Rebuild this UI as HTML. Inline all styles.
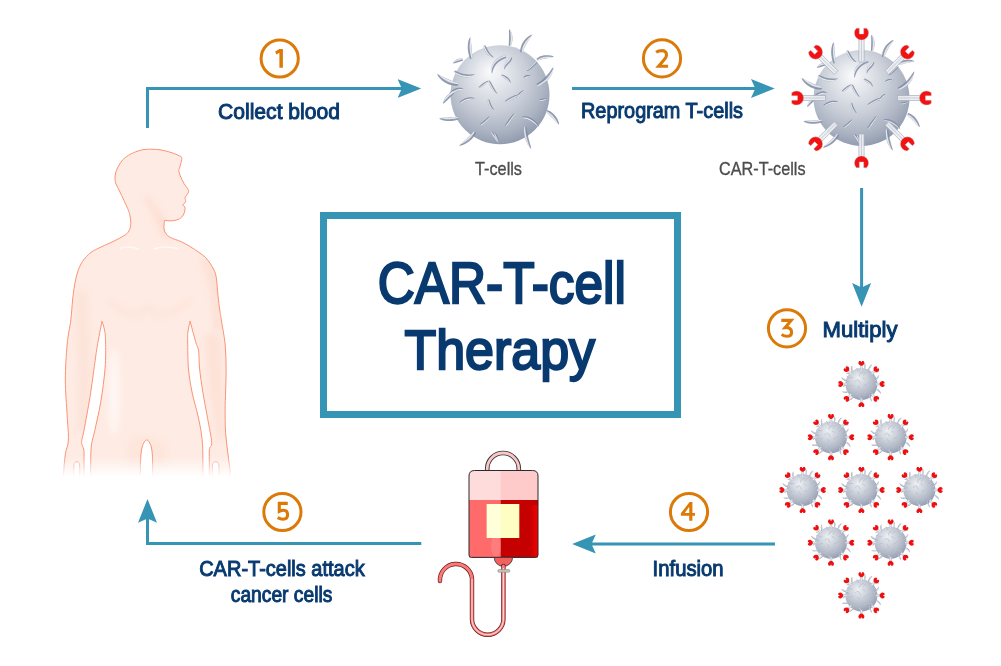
<!DOCTYPE html>
<html><head><meta charset="utf-8">
<style>
html,body{margin:0;padding:0;background:#fff;}
body{width:1001px;height:666px;overflow:hidden;position:relative;}
svg{position:absolute;left:0;top:0;}
text{font-family:"Liberation Sans",sans-serif;}
.lbl{fill:#083a70;stroke:#083a70;stroke-width:1.0;}
.ttl{fill:#083a70;stroke:#083a70;stroke-width:2.3;}
.num{fill:#db7a08;font-weight:bold;}
.gry{fill:#4d4d4d;stroke:#4d4d4d;stroke-width:0.35;}
</style></head>
<body>
<svg width="1001" height="666" viewBox="0 0 1001 666">
<defs>
  <radialGradient id="sph" cx="0.45" cy="0.38" r="0.64" fx="0.4" fy="0.26">
    <stop offset="0" stop-color="#f9fafb"/>
    <stop offset="0.25" stop-color="#e3e6eb"/>
    <stop offset="0.55" stop-color="#c8cdd7"/>
    <stop offset="0.82" stop-color="#aab2c1"/>
    <stop offset="1" stop-color="#8f99ad"/>
  </radialGradient>
  <linearGradient id="bodyfade" x1="0" y1="0" x2="0" y2="1">
    <stop offset="0" stop-color="#fff" stop-opacity="0"/>
    <stop offset="1" stop-color="#fff" stop-opacity="1"/>
  </linearGradient>
  <marker id="ah" viewBox="0 0 24 20" refX="8" refY="10" markerWidth="24" markerHeight="20" markerUnits="userSpaceOnUse" orient="auto">
    <path d="M0,0.5 L23.7,10 L0,19.5 L4.3,10 Z" fill="#3694b4"/>
  </marker>
  <g id="hairs"><path d="M-26.54,-36.18 L-26.70,-38.13 L-26.86,-40.02 L-27.03,-41.86 L-27.18,-43.67 L-27.34,-45.43 L-27.49,-47.17 L-27.64,-48.88 L-27.78,-50.58 L-27.93,-52.26 L-28.09,-53.95 L-28.28,-55.64 L-28.80,-57.40 L-28.80,-57.40 L-29.82,-55.84 L-30.39,-54.16 L-30.81,-52.42 L-31.08,-50.64 L-31.23,-48.83 L-31.26,-46.98 L-31.17,-45.11 L-30.95,-43.22 L-30.61,-41.33 L-30.15,-39.42 L-29.57,-37.52 L-28.86,-35.62Z M-36.15,-35.79 L-37.19,-35.95 L-38.22,-35.99 L-39.23,-35.94 L-40.22,-35.79 L-41.18,-35.54 L-42.10,-35.20 L-42.97,-34.77 L-43.79,-34.25 L-44.54,-33.65 L-45.21,-32.95 L-45.79,-32.16 L-46.10,-31.10 L-46.10,-31.10 L-45.02,-31.13 L-44.15,-31.34 L-43.34,-31.57 L-42.55,-31.79 L-41.77,-32.02 L-41.00,-32.25 L-40.23,-32.48 L-39.45,-32.72 L-38.65,-32.97 L-37.82,-33.24 L-36.95,-33.51 L-36.05,-33.81Z M-40.74,-11.49 L-42.60,-12.07 L-44.40,-12.68 L-46.15,-13.31 L-47.86,-13.97 L-49.55,-14.66 L-51.21,-15.40 L-52.88,-16.17 L-54.56,-17.00 L-56.25,-17.88 L-57.98,-18.82 L-59.78,-19.80 L-61.90,-20.60 L-61.90,-20.60 L-61.01,-18.47 L-59.71,-16.74 L-58.25,-15.18 L-56.67,-13.78 L-54.97,-12.53 L-53.19,-11.45 L-51.31,-10.54 L-49.36,-9.81 L-47.35,-9.25 L-45.29,-8.88 L-43.19,-8.70 L-41.06,-8.71Z M11.76,-48.23 L12.36,-49.71 L12.84,-51.22 L13.18,-52.73 L13.40,-54.25 L13.49,-55.76 L13.45,-57.25 L13.29,-58.73 L13.00,-60.17 L12.58,-61.57 L12.02,-62.92 L11.31,-64.20 L10.20,-65.30 L10.20,-65.30 L9.95,-63.79 L9.96,-62.42 L9.98,-61.08 L10.00,-59.77 L10.00,-58.46 L10.00,-57.15 L9.97,-55.83 L9.93,-54.49 L9.88,-53.12 L9.81,-51.72 L9.73,-50.27 L9.64,-48.77Z M23.48,-42.01 L24.07,-43.57 L24.68,-45.07 L25.32,-46.54 L26.00,-47.98 L26.73,-49.39 L27.51,-50.81 L28.34,-52.22 L29.23,-53.66 L30.19,-55.11 L31.23,-56.60 L32.32,-58.15 L33.30,-60.00 L33.30,-60.00 L31.29,-59.31 L29.60,-58.24 L28.06,-57.04 L26.66,-55.72 L25.40,-54.30 L24.29,-52.79 L23.34,-51.20 L22.55,-49.54 L21.93,-47.81 L21.48,-46.04 L21.21,-44.23 L21.12,-42.39Z M38.58,-33.87 L39.66,-34.19 L40.75,-34.51 L41.88,-34.83 L43.05,-35.14 L44.27,-35.44 L45.55,-35.75 L46.90,-36.05 L48.32,-36.36 L49.83,-36.67 L51.42,-36.99 L53.11,-37.34 L54.90,-38.00 L54.90,-38.00 L53.13,-38.76 L51.38,-39.11 L49.68,-39.31 L48.03,-39.37 L46.44,-39.32 L44.90,-39.15 L43.44,-38.86 L42.04,-38.46 L40.73,-37.95 L39.52,-37.32 L38.41,-36.58 L37.42,-35.73Z M38.45,-8.49 L40.59,-9.15 L42.63,-10.01 L44.55,-11.06 L46.33,-12.29 L47.98,-13.69 L49.47,-15.25 L50.80,-16.97 L51.95,-18.82 L52.92,-20.80 L53.70,-22.89 L54.25,-25.10 L54.30,-27.50 L54.30,-27.50 L52.81,-25.68 L51.61,-23.89 L50.42,-22.22 L49.20,-20.65 L47.96,-19.18 L46.68,-17.80 L45.35,-16.49 L43.96,-15.24 L42.49,-14.05 L40.94,-12.90 L39.30,-11.79 L37.55,-10.71Z M-45.73,-3.29 L-47.04,-2.64 L-48.29,-1.91 L-49.46,-1.10 L-50.57,-0.21 L-51.60,0.74 L-52.56,1.76 L-53.43,2.84 L-54.22,3.97 L-54.92,5.16 L-55.52,6.40 L-55.99,7.70 L-56.10,9.20 L-56.10,9.20 L-54.80,8.49 L-53.79,7.63 L-52.83,6.77 L-51.89,5.90 L-50.96,5.02 L-50.04,4.14 L-49.13,3.25 L-48.21,2.34 L-47.29,1.42 L-46.36,0.47 L-45.42,-0.50 L-44.47,-1.51Z M-41.09,22.72 L-42.77,22.69 L-44.41,22.68 L-46.02,22.69 L-47.59,22.72 L-49.14,22.76 L-50.68,22.81 L-52.19,22.88 L-53.69,22.96 L-55.19,23.07 L-56.69,23.19 L-58.21,23.38 L-59.80,23.90 L-59.80,23.90 L-58.44,24.91 L-56.97,25.49 L-55.44,25.93 L-53.88,26.26 L-52.29,26.48 L-50.68,26.59 L-49.04,26.60 L-47.38,26.50 L-45.72,26.31 L-44.05,26.01 L-42.38,25.60 L-40.71,25.08Z M-25.01,36.87 L-26.08,37.97 L-27.14,39.07 L-28.23,40.17 L-29.35,41.27 L-30.50,42.38 L-31.69,43.50 L-32.93,44.64 L-34.22,45.81 L-35.56,47.01 L-36.97,48.25 L-38.42,49.56 L-39.80,51.20 L-39.80,51.20 L-37.66,50.91 L-35.75,50.22 L-33.96,49.40 L-32.27,48.48 L-30.69,47.46 L-29.21,46.35 L-27.85,45.16 L-26.61,43.89 L-25.49,42.54 L-24.51,41.13 L-23.67,39.66 L-22.99,38.13Z M46.94,17.55 L47.97,18.46 L48.98,19.36 L49.98,20.28 L50.98,21.22 L51.99,22.19 L53.01,23.20 L54.05,24.26 L55.12,25.36 L56.21,26.52 L57.35,27.74 L58.56,29.01 L60.10,30.20 L60.10,30.20 L59.91,28.24 L59.31,26.51 L58.59,24.89 L57.75,23.37 L56.82,21.96 L55.79,20.65 L54.68,19.45 L53.49,18.38 L52.22,17.43 L50.89,16.62 L49.50,15.95 L48.06,15.45Z M25.41,32.25 L25.12,34.17 L24.99,36.11 L25.02,38.06 L25.21,40.01 L25.54,41.94 L26.03,43.86 L26.66,45.76 L27.44,47.62 L28.36,49.44 L29.43,51.21 L30.67,52.91 L32.30,54.40 L32.30,54.40 L31.93,52.25 L31.35,50.31 L30.79,48.42 L30.28,46.58 L29.80,44.77 L29.37,42.99 L28.99,41.22 L28.64,39.46 L28.33,37.70 L28.05,35.94 L27.81,34.16 L27.59,32.35Z M-15.44,-48.70 L-15.22,-47.48 L-14.91,-46.26 L-14.51,-45.03 L-14.00,-43.81 L-13.38,-42.61 L-12.62,-41.45 L-11.73,-40.36 L-10.69,-39.36 L-9.50,-38.47 L-8.17,-37.73 L-6.70,-37.16 L-5.00,-37.00 L-5.00,-37.00 L-6.14,-38.19 L-7.19,-39.16 L-8.11,-40.12 L-8.91,-41.09 L-9.63,-42.06 L-10.28,-43.05 L-10.89,-44.06 L-11.46,-45.08 L-12.03,-46.13 L-12.59,-47.19 L-13.16,-48.25 L-13.76,-49.30Z M6.80,-38.88 L4.86,-38.67 L2.89,-38.18 L0.95,-37.43 L-0.92,-36.41 L-2.68,-35.13 L-4.26,-33.60 L-5.62,-31.84 L-6.70,-29.86 L-7.46,-27.69 L-7.84,-25.37 L-7.78,-22.95 L-7.00,-20.50 L-7.00,-20.50 L-6.36,-22.88 L-5.76,-24.96 L-4.98,-26.79 L-4.04,-28.43 L-2.95,-29.90 L-1.74,-31.22 L-0.42,-32.43 L1.00,-33.51 L2.49,-34.48 L4.04,-35.34 L5.61,-36.09 L7.20,-36.72Z M11.55,-37.17 L10.98,-36.35 L10.34,-35.59 L9.62,-34.83 L8.84,-34.05 L8.02,-33.22 L7.20,-32.33 L6.42,-31.34 L5.73,-30.25 L5.20,-29.04 L4.91,-27.74 L4.93,-26.36 L5.50,-25.00 L5.50,-25.00 L6.08,-26.25 L6.57,-27.23 L7.14,-28.08 L7.78,-28.86 L8.50,-29.62 L9.28,-30.40 L10.09,-31.22 L10.92,-32.11 L11.70,-33.08 L12.40,-34.16 L12.94,-35.34 L13.25,-36.63Z M2.12,-18.70 L2.92,-18.06 L3.74,-17.46 L4.57,-16.88 L5.39,-16.32 L6.20,-15.78 L6.99,-15.24 L7.75,-14.69 L8.49,-14.13 L9.21,-13.55 L9.91,-12.91 L10.62,-12.22 L11.50,-11.50 L11.50,-11.50 L11.53,-12.70 L11.20,-13.77 L10.69,-14.76 L10.06,-15.68 L9.33,-16.50 L8.51,-17.24 L7.64,-17.89 L6.72,-18.47 L5.78,-18.97 L4.82,-19.41 L3.85,-19.78 L2.88,-20.10Z M-19.58,-6.18 L-18.49,-6.73 L-17.46,-7.33 L-16.48,-7.95 L-15.57,-8.59 L-14.71,-9.23 L-13.91,-9.87 L-13.16,-10.51 L-12.45,-11.13 L-11.78,-11.74 L-11.14,-12.33 L-10.54,-12.93 L-10.00,-13.70 L-10.00,-13.70 L-10.97,-13.80 L-11.87,-13.59 L-12.75,-13.25 L-13.63,-12.82 L-14.49,-12.32 L-15.34,-11.75 L-16.18,-11.13 L-17.02,-10.46 L-17.86,-9.75 L-18.70,-9.00 L-19.55,-8.23 L-20.42,-7.42Z M-10.72,-13.36 L-10.39,-12.22 L-10.00,-11.07 L-9.55,-9.90 L-9.04,-8.73 L-8.45,-7.56 L-7.78,-6.40 L-7.02,-5.25 L-6.16,-4.14 L-5.20,-3.07 L-4.14,-2.07 L-2.94,-1.16 L-1.50,-0.50 L-1.50,-0.50 L-2.21,-1.88 L-2.97,-3.08 L-3.69,-4.25 L-4.36,-5.40 L-4.99,-6.53 L-5.60,-7.65 L-6.19,-8.77 L-6.78,-9.87 L-7.37,-10.95 L-7.98,-12.01 L-8.61,-13.05 L-9.28,-14.04Z M25.49,-15.95 L26.05,-16.06 L26.58,-16.17 L27.07,-16.29 L27.54,-16.42 L28.01,-16.56 L28.48,-16.72 L28.96,-16.90 L29.48,-17.10 L30.03,-17.33 L30.63,-17.59 L31.29,-17.91 L32.00,-18.50 L32.00,-18.50 L31.25,-19.07 L30.52,-19.32 L29.81,-19.48 L29.11,-19.55 L28.43,-19.54 L27.77,-19.46 L27.14,-19.30 L26.53,-19.07 L25.96,-18.77 L25.43,-18.40 L24.95,-17.96 L24.51,-17.45Z M-45.25,-22.54 L-43.85,-21.18 L-42.30,-20.00 L-40.61,-19.03 L-38.83,-18.26 L-36.97,-17.71 L-35.05,-17.37 L-33.11,-17.24 L-31.17,-17.33 L-29.26,-17.64 L-27.39,-18.15 L-25.59,-18.90 L-24.00,-20.10 L-24.00,-20.10 L-25.94,-20.15 L-27.75,-20.05 L-29.51,-20.02 L-31.24,-20.08 L-32.94,-20.24 L-34.60,-20.48 L-36.23,-20.82 L-37.82,-21.26 L-39.39,-21.79 L-40.93,-22.43 L-42.45,-23.18 L-43.95,-24.06Z M-48.59,0.60 L-47.39,-0.24 L-46.23,-1.01 L-45.11,-1.70 L-44.01,-2.31 L-42.95,-2.86 L-41.92,-3.35 L-40.90,-3.77 L-39.89,-4.14 L-38.89,-4.46 L-37.86,-4.73 L-36.80,-4.97 L-35.60,-5.40 L-35.60,-5.40 L-36.63,-6.25 L-37.83,-6.66 L-39.10,-6.85 L-40.41,-6.84 L-41.74,-6.65 L-43.06,-6.28 L-44.36,-5.74 L-45.62,-5.03 L-46.82,-4.18 L-47.97,-3.19 L-49.03,-2.06 L-50.01,-0.80Z M-38.26,8.82 L-36.99,8.17 L-35.76,7.60 L-34.57,7.09 L-33.40,6.64 L-32.26,6.23 L-31.12,5.87 L-29.98,5.54 L-28.83,5.24 L-27.67,4.96 L-26.48,4.69 L-25.27,4.41 L-24.00,3.90 L-24.00,3.90 L-25.23,3.25 L-26.52,2.95 L-27.83,2.80 L-29.16,2.78 L-30.50,2.89 L-31.83,3.13 L-33.17,3.50 L-34.48,4.01 L-35.76,4.65 L-37.00,5.42 L-38.20,6.33 L-39.34,7.38Z M-18.47,30.93 L-17.41,30.62 L-16.39,30.20 L-15.42,29.69 L-14.49,29.10 L-13.61,28.43 L-12.79,27.68 L-12.02,26.87 L-11.31,26.00 L-10.66,25.06 L-10.08,24.08 L-9.57,23.03 L-9.30,21.80 L-9.30,21.80 L-10.39,22.39 L-11.28,23.10 L-12.11,23.80 L-12.92,24.49 L-13.71,25.17 L-14.49,25.82 L-15.25,26.46 L-16.01,27.08 L-16.77,27.69 L-17.54,28.29 L-18.32,28.88 L-19.13,29.47Z M-11.19,5.07 L-11.24,6.26 L-11.16,7.43 L-10.97,8.58 L-10.69,9.69 L-10.30,10.75 L-9.81,11.75 L-9.24,12.68 L-8.57,13.52 L-7.83,14.26 L-7.02,14.88 L-6.14,15.35 L-5.10,15.50 L-5.10,15.50 L-5.47,14.56 L-5.92,13.80 L-6.36,13.04 L-6.77,12.26 L-7.18,11.45 L-7.56,10.62 L-7.94,9.76 L-8.30,8.86 L-8.65,7.93 L-8.98,6.97 L-9.30,5.97 L-9.61,4.93Z M-7.84,37.97 L-7.46,38.83 L-7.04,39.69 L-6.59,40.57 L-6.09,41.45 L-5.54,42.35 L-4.95,43.25 L-4.30,44.15 L-3.59,45.04 L-2.82,45.90 L-1.98,46.74 L-1.06,47.52 L0.10,48.10 L0.10,48.10 L-0.25,46.87 L-0.75,45.81 L-1.26,44.79 L-1.77,43.80 L-2.29,42.84 L-2.83,41.90 L-3.38,40.99 L-3.95,40.11 L-4.55,39.26 L-5.18,38.46 L-5.85,37.71 L-6.56,37.03Z M7.08,31.75 L8.10,30.89 L9.07,29.96 L9.99,28.96 L10.85,27.90 L11.65,26.81 L12.41,25.68 L13.10,24.53 L13.73,23.37 L14.30,22.20 L14.81,21.04 L15.23,19.87 L15.40,18.60 L15.40,18.60 L14.35,19.33 L13.49,20.22 L12.68,21.18 L11.88,22.19 L11.09,23.22 L10.32,24.27 L9.56,25.34 L8.81,26.41 L8.07,27.48 L7.35,28.55 L6.63,29.60 L5.92,30.65Z M23.35,23.70 L24.68,23.91 L26.02,24.23 L27.39,24.65 L28.78,25.17 L30.19,25.79 L31.60,26.49 L33.02,27.29 L34.43,28.17 L35.83,29.13 L37.20,30.16 L38.57,31.26 L40.10,32.30 L40.10,32.30 L39.46,30.52 L38.45,28.96 L37.27,27.52 L35.95,26.21 L34.52,25.05 L33.00,24.03 L31.41,23.18 L29.78,22.51 L28.12,22.03 L26.46,21.76 L24.82,21.71 L23.25,21.90Z M6.90,7.79 L8.13,7.29 L9.35,6.74 L10.56,6.15 L11.77,5.53 L12.98,4.88 L14.18,4.21 L15.37,3.53 L16.55,2.83 L17.74,2.12 L18.92,1.40 L20.09,0.66 L21.20,-0.30 L21.20,-0.30 L19.72,-0.31 L18.32,-0.02 L16.95,0.38 L15.60,0.85 L14.28,1.39 L13.00,1.99 L11.75,2.63 L10.54,3.32 L9.37,4.05 L8.23,4.81 L7.14,5.60 L6.10,6.41Z M39.98,6.19 L40.73,6.45 L41.47,6.61 L42.20,6.67 L42.91,6.65 L43.59,6.54 L44.24,6.36 L44.87,6.12 L45.46,5.82 L46.02,5.46 L46.55,5.05 L47.07,4.59 L47.50,3.90 L47.50,3.90 L46.70,3.76 L46.02,3.82 L45.38,3.91 L44.77,4.01 L44.20,4.13 L43.66,4.24 L43.13,4.35 L42.60,4.46 L42.06,4.56 L41.50,4.66 L40.89,4.74 L40.22,4.81Z M-4.66,38.72 L-4.55,39.54 L-4.37,40.35 L-4.14,41.15 L-3.86,41.93 L-3.53,42.69 L-3.15,43.43 L-2.73,44.14 L-2.27,44.82 L-1.76,45.46 L-1.21,46.06 L-0.60,46.61 L0.20,47.00 L0.20,47.00 L0.16,46.12 L-0.06,45.36 L-0.31,44.62 L-0.58,43.89 L-0.87,43.16 L-1.18,42.45 L-1.50,41.74 L-1.83,41.04 L-2.18,40.34 L-2.55,39.65 L-2.93,38.96 L-3.34,38.28Z M18.38,3.67 L19.07,3.09 L19.71,2.48 L20.32,1.85 L20.90,1.21 L21.45,0.57 L21.98,-0.08 L22.49,-0.71 L23.00,-1.35 L23.50,-1.98 L24.01,-2.61 L24.53,-3.26 L25.00,-4.10 L25.00,-4.10 L24.01,-4.08 L23.14,-3.77 L22.34,-3.35 L21.58,-2.84 L20.87,-2.27 L20.22,-1.65 L19.62,-0.98 L19.06,-0.28 L18.54,0.44 L18.07,1.19 L17.63,1.95 L17.22,2.73Z M37.56,-33.04 L36.24,-32.15 L35.01,-31.24 L33.88,-30.32 L32.83,-29.42 L31.88,-28.53 L31.00,-27.68 L30.20,-26.88 L29.46,-26.13 L28.78,-25.44 L28.15,-24.81 L27.55,-24.22 L27.00,-23.50 L27.00,-23.50 L27.95,-23.40 L28.87,-23.66 L29.78,-24.09 L30.69,-24.65 L31.59,-25.31 L32.50,-26.07 L33.42,-26.90 L34.35,-27.81 L35.31,-28.77 L36.31,-29.79 L37.35,-30.85 L38.44,-31.96Z" fill="#7f8ba3" opacity="0.85"/><path d="M-26.36,-36.22 L-26.66,-38.13 L-26.94,-40.00 L-27.18,-41.84 L-27.38,-43.64 L-27.55,-45.42 L-27.68,-47.16 L-27.78,-48.88 L-27.85,-50.58 L-27.88,-52.26 L-27.88,-53.93 L-27.87,-55.58 L-27.97,-57.26 L-27.97,-57.26 L-28.56,-55.67 L-28.92,-54.02 L-29.17,-52.33 L-29.33,-50.61 L-29.40,-48.86 L-29.38,-47.07 L-29.27,-45.27 L-29.07,-43.44 L-28.79,-41.60 L-28.42,-39.74 L-27.96,-37.86 L-27.40,-35.97Z M-36.16,-35.95 L-37.19,-35.98 L-38.21,-35.93 L-39.21,-35.81 L-40.18,-35.63 L-41.12,-35.37 L-42.04,-35.05 L-42.92,-34.66 L-43.76,-34.20 L-44.56,-33.68 L-45.31,-33.10 L-46.00,-32.45 L-46.55,-31.64 L-46.55,-31.64 L-45.65,-31.98 L-44.83,-32.37 L-44.02,-32.75 L-43.20,-33.10 L-42.38,-33.42 L-41.55,-33.72 L-40.70,-34.00 L-39.83,-34.25 L-38.94,-34.48 L-38.03,-34.69 L-37.09,-34.88 L-36.11,-35.06Z M-40.71,-11.70 L-42.60,-12.12 L-44.42,-12.60 L-46.20,-13.14 L-47.94,-13.75 L-49.64,-14.44 L-51.32,-15.19 L-52.96,-16.03 L-54.60,-16.94 L-56.21,-17.93 L-57.83,-19.01 L-59.45,-20.16 L-61.20,-21.29 L-61.20,-21.29 L-60.00,-19.56 L-58.60,-18.07 L-57.11,-16.72 L-55.55,-15.49 L-53.91,-14.39 L-52.20,-13.42 L-50.44,-12.58 L-48.61,-11.88 L-46.74,-11.31 L-44.82,-10.89 L-42.86,-10.60 L-40.86,-10.46Z M11.93,-48.19 L12.40,-49.71 L12.77,-51.23 L13.04,-52.75 L13.22,-54.26 L13.30,-55.76 L13.28,-57.25 L13.16,-58.71 L12.94,-60.16 L12.63,-61.58 L12.21,-62.96 L11.68,-64.31 L10.93,-65.56 L10.93,-65.56 L11.07,-64.12 L11.28,-62.74 L11.46,-61.36 L11.59,-59.98 L11.68,-58.59 L11.72,-57.20 L11.71,-55.79 L11.66,-54.37 L11.56,-52.92 L11.41,-51.45 L11.21,-49.96 L10.97,-48.43Z M23.66,-41.97 L24.10,-43.56 L24.61,-45.09 L25.18,-46.59 L25.82,-48.06 L26.54,-49.49 L27.34,-50.91 L28.22,-52.31 L29.18,-53.70 L30.23,-55.07 L31.37,-56.45 L32.60,-57.84 L33.83,-59.34 L33.83,-59.34 L32.13,-58.36 L30.64,-57.19 L29.27,-55.94 L28.02,-54.62 L26.90,-53.24 L25.90,-51.80 L25.02,-50.31 L24.27,-48.76 L23.65,-47.16 L23.17,-45.53 L22.82,-43.86 L22.60,-42.15Z M38.67,-33.72 L39.67,-34.16 L40.73,-34.58 L41.83,-34.96 L42.99,-35.31 L44.22,-35.63 L45.51,-35.92 L46.88,-36.19 L48.32,-36.42 L49.83,-36.62 L51.43,-36.80 L53.10,-36.96 L54.86,-37.23 L54.86,-37.23 L53.11,-37.60 L51.41,-37.75 L49.77,-37.81 L48.19,-37.77 L46.67,-37.66 L45.22,-37.45 L43.85,-37.17 L42.54,-36.81 L41.32,-36.36 L40.17,-35.84 L39.11,-35.24 L38.15,-34.56Z M38.52,-8.32 L40.61,-9.12 L42.59,-10.08 L44.46,-11.19 L46.21,-12.44 L47.83,-13.85 L49.33,-15.38 L50.68,-17.06 L51.90,-18.85 L52.97,-20.77 L53.88,-22.80 L54.64,-24.95 L55.10,-27.23 L55.10,-27.23 L53.99,-25.21 L52.94,-23.25 L51.84,-21.41 L50.66,-19.68 L49.41,-18.05 L48.07,-16.53 L46.65,-15.10 L45.14,-13.77 L43.54,-12.53 L41.83,-11.38 L40.03,-10.31 L38.12,-9.32Z M-45.83,-3.43 L-47.06,-2.67 L-48.24,-1.86 L-49.37,-0.99 L-50.44,-0.08 L-51.46,0.88 L-52.43,1.88 L-53.33,2.92 L-54.18,4.01 L-54.96,5.13 L-55.67,6.29 L-56.31,7.49 L-56.76,8.80 L-56.76,8.80 L-55.78,7.85 L-54.90,6.84 L-54.02,5.85 L-53.13,4.87 L-52.22,3.91 L-51.30,2.95 L-50.35,2.01 L-49.38,1.07 L-48.39,0.14 L-47.38,-0.78 L-46.33,-1.71 L-45.26,-2.63Z M-41.12,22.53 L-42.77,22.65 L-44.40,22.76 L-46.00,22.85 L-47.58,22.92 L-49.14,22.97 L-50.68,23.01 L-52.19,23.02 L-53.70,23.03 L-55.19,23.01 L-56.67,22.99 L-58.15,22.96 L-59.65,23.07 L-59.65,23.07 L-58.25,23.65 L-56.79,24.02 L-55.30,24.30 L-53.78,24.51 L-52.24,24.64 L-50.68,24.70 L-49.09,24.70 L-47.49,24.62 L-45.87,24.47 L-44.24,24.25 L-42.60,23.96 L-40.95,23.60Z M-25.17,36.77 L-26.11,37.95 L-27.08,39.12 L-28.12,40.27 L-29.20,41.40 L-30.35,42.53 L-31.56,43.64 L-32.84,44.76 L-34.18,45.86 L-35.59,46.97 L-37.08,48.07 L-38.63,49.20 L-40.19,50.45 L-40.19,50.45 L-38.29,49.80 L-36.53,48.96 L-34.87,48.04 L-33.30,47.06 L-31.83,46.02 L-30.45,44.93 L-29.16,43.78 L-27.97,42.58 L-26.88,41.34 L-25.90,40.05 L-25.02,38.71 L-24.26,37.34Z M46.85,17.72 L47.95,18.49 L49.02,19.30 L50.07,20.16 L51.11,21.07 L52.14,22.04 L53.15,23.07 L54.16,24.16 L55.17,25.32 L56.17,26.55 L57.18,27.85 L58.20,29.22 L59.35,30.59 L59.35,30.59 L58.80,28.87 L58.06,27.30 L57.24,25.82 L56.35,24.43 L55.41,23.13 L54.40,21.92 L53.35,20.81 L52.24,19.79 L51.08,18.88 L49.88,18.07 L48.64,17.36 L47.36,16.77Z M25.23,32.24 L25.08,34.17 L25.06,36.11 L25.16,38.04 L25.39,39.98 L25.73,41.90 L26.20,43.82 L26.78,45.72 L27.49,47.60 L28.31,49.46 L29.26,51.29 L30.33,53.09 L31.63,54.79 L31.63,54.79 L30.89,52.79 L30.12,50.88 L29.41,49.00 L28.77,47.13 L28.20,45.27 L27.70,43.42 L27.28,41.58 L26.93,39.73 L26.65,37.88 L26.44,36.03 L26.30,34.17 L26.22,32.29Z M-15.58,-48.65 L-15.25,-47.47 L-14.86,-46.28 L-14.41,-45.07 L-13.87,-43.87 L-13.24,-42.69 L-12.50,-41.53 L-11.64,-40.43 L-10.65,-39.39 L-9.53,-38.44 L-8.26,-37.60 L-6.84,-36.89 L-5.24,-36.42 L-5.24,-36.42 L-6.60,-37.35 L-7.82,-38.24 L-8.90,-39.18 L-9.85,-40.17 L-10.70,-41.19 L-11.45,-42.25 L-12.12,-43.34 L-12.73,-44.45 L-13.29,-45.57 L-13.81,-46.70 L-14.32,-47.82 L-14.82,-48.92Z M6.77,-39.05 L4.85,-38.70 L2.92,-38.12 L1.01,-37.30 L-0.82,-36.26 L-2.55,-34.98 L-4.13,-33.48 L-5.51,-31.76 L-6.65,-29.83 L-7.51,-27.70 L-8.02,-25.41 L-8.16,-22.97 L-7.77,-20.42 L-7.77,-20.42 L-7.52,-22.94 L-7.09,-25.22 L-6.39,-27.30 L-5.45,-29.18 L-4.31,-30.89 L-3.00,-32.41 L-1.54,-33.76 L0.04,-34.95 L1.71,-35.98 L3.43,-36.84 L5.19,-37.54 L6.95,-38.08Z M11.41,-37.21 L10.96,-36.37 L10.39,-35.56 L9.71,-34.76 L8.95,-33.95 L8.14,-33.11 L7.31,-32.23 L6.50,-31.27 L5.77,-30.22 L5.17,-29.06 L4.76,-27.78 L4.61,-26.40 L4.87,-24.94 L4.87,-24.94 L5.13,-26.34 L5.51,-27.56 L6.04,-28.63 L6.69,-29.59 L7.44,-30.50 L8.24,-31.36 L9.07,-32.21 L9.88,-33.08 L10.64,-33.97 L11.31,-34.91 L11.84,-35.91 L12.18,-36.97Z M2.06,-18.59 L2.91,-18.04 L3.76,-17.50 L4.62,-16.97 L5.46,-16.44 L6.28,-15.89 L7.07,-15.34 L7.82,-14.76 L8.52,-14.16 L9.18,-13.52 L9.80,-12.84 L10.37,-12.09 L10.97,-11.30 L10.97,-11.30 L10.78,-12.31 L10.38,-13.22 L9.85,-14.07 L9.23,-14.86 L8.52,-15.58 L7.75,-16.24 L6.93,-16.85 L6.06,-17.40 L5.16,-17.91 L4.25,-18.38 L3.33,-18.81 L2.40,-19.22Z M-19.52,-6.08 L-18.47,-6.71 L-17.48,-7.36 L-16.54,-8.02 L-15.65,-8.68 L-14.79,-9.33 L-13.98,-9.97 L-13.21,-10.58 L-12.47,-11.16 L-11.76,-11.71 L-11.08,-12.22 L-10.42,-12.69 L-9.80,-13.21 L-9.80,-13.21 L-10.61,-13.09 L-11.40,-12.78 L-12.20,-12.39 L-13.00,-11.93 L-13.81,-11.40 L-14.63,-10.81 L-15.46,-10.19 L-16.30,-9.53 L-17.16,-8.83 L-18.04,-8.12 L-18.95,-7.39 L-19.89,-6.64Z M-10.83,-13.30 L-10.41,-12.21 L-9.95,-11.09 L-9.46,-9.95 L-8.92,-8.79 L-8.32,-7.63 L-7.67,-6.46 L-6.94,-5.30 L-6.13,-4.16 L-5.23,-3.05 L-4.24,-1.98 L-3.14,-0.96 L-1.87,-0.08 L-1.87,-0.08 L-2.81,-1.29 L-3.72,-2.43 L-4.55,-3.58 L-5.32,-4.73 L-6.02,-5.88 L-6.68,-7.03 L-7.31,-8.17 L-7.90,-9.30 L-8.48,-10.42 L-9.04,-11.52 L-9.61,-12.58 L-10.18,-13.61Z M25.57,-15.83 L26.07,-16.03 L26.55,-16.22 L27.02,-16.39 L27.49,-16.55 L27.96,-16.71 L28.44,-16.86 L28.94,-17.00 L29.47,-17.14 L30.04,-17.29 L30.65,-17.43 L31.30,-17.59 L32.00,-17.87 L32.00,-17.87 L31.28,-18.12 L30.59,-18.21 L29.94,-18.25 L29.31,-18.25 L28.70,-18.19 L28.12,-18.09 L27.57,-17.94 L27.03,-17.75 L26.52,-17.51 L26.04,-17.22 L25.57,-16.89 L25.13,-16.51Z M-45.35,-22.43 L-43.87,-21.15 L-42.27,-20.06 L-40.56,-19.14 L-38.78,-18.42 L-36.93,-17.88 L-35.03,-17.53 L-33.11,-17.36 L-31.18,-17.38 L-29.25,-17.59 L-27.35,-17.98 L-25.50,-18.57 L-23.75,-19.44 L-23.75,-19.44 L-25.66,-19.13 L-27.52,-18.84 L-29.37,-18.67 L-31.21,-18.62 L-33.03,-18.71 L-34.82,-18.93 L-36.59,-19.28 L-38.32,-19.77 L-40.01,-20.39 L-41.65,-21.15 L-43.24,-22.05 L-44.77,-23.11Z M-48.48,0.71 L-47.37,-0.22 L-46.27,-1.06 L-45.18,-1.80 L-44.10,-2.46 L-43.03,-3.02 L-41.97,-3.50 L-40.93,-3.89 L-39.90,-4.19 L-38.88,-4.42 L-37.87,-4.56 L-36.84,-4.62 L-35.77,-4.72 L-35.77,-4.72 L-36.77,-5.20 L-37.85,-5.43 L-38.98,-5.49 L-40.14,-5.41 L-41.31,-5.18 L-42.49,-4.82 L-43.66,-4.31 L-44.82,-3.68 L-45.95,-2.92 L-47.05,-2.04 L-48.11,-1.04 L-49.12,0.08Z M-38.18,8.93 L-36.98,8.20 L-35.79,7.55 L-34.62,6.99 L-33.46,6.50 L-32.31,6.08 L-31.15,5.73 L-30.00,5.43 L-28.83,5.19 L-27.66,5.00 L-26.48,4.85 L-25.28,4.72 L-24.05,4.53 L-24.05,4.53 L-25.26,4.20 L-26.49,4.06 L-27.74,4.03 L-28.98,4.09 L-30.23,4.24 L-31.48,4.50 L-32.71,4.85 L-33.94,5.32 L-35.16,5.89 L-36.35,6.57 L-37.52,7.37 L-38.66,8.28Z M-18.42,31.04 L-17.40,30.64 L-16.42,30.16 L-15.47,29.61 L-14.57,28.99 L-13.70,28.32 L-12.88,27.58 L-12.09,26.80 L-11.34,25.97 L-10.64,25.09 L-9.97,24.16 L-9.35,23.20 L-8.85,22.13 L-8.85,22.13 L-9.72,22.91 L-10.51,23.73 L-11.29,24.52 L-12.07,25.29 L-12.85,26.03 L-13.64,26.75 L-14.44,27.43 L-15.25,28.08 L-16.08,28.71 L-16.93,29.30 L-17.81,29.86 L-18.72,30.39Z M-11.32,5.08 L-11.26,6.26 L-11.11,7.42 L-10.88,8.55 L-10.56,9.65 L-10.17,10.70 L-9.70,11.70 L-9.15,12.63 L-8.54,13.50 L-7.86,14.28 L-7.12,14.98 L-6.32,15.57 L-5.42,15.96 L-5.42,15.96 L-6.02,15.21 L-6.63,14.49 L-7.20,13.73 L-7.73,12.93 L-8.23,12.08 L-8.68,11.19 L-9.11,10.25 L-9.49,9.28 L-9.83,8.26 L-10.13,7.21 L-10.39,6.13 L-10.60,5.02Z M-7.94,38.05 L-7.48,38.84 L-7.00,39.66 L-6.50,40.51 L-5.98,41.38 L-5.42,42.28 L-4.84,43.18 L-4.22,44.10 L-3.56,45.01 L-2.85,45.92 L-2.09,46.82 L-1.27,47.69 L-0.33,48.47 L-0.33,48.47 L-0.91,47.40 L-1.54,46.40 L-2.15,45.42 L-2.74,44.46 L-3.32,43.51 L-3.88,42.57 L-4.45,41.66 L-5.01,40.78 L-5.58,39.93 L-6.16,39.11 L-6.75,38.34 L-7.36,37.62Z M7.17,31.83 L8.12,30.91 L9.03,29.93 L9.91,28.90 L10.74,27.83 L11.54,26.73 L12.30,25.61 L13.02,24.48 L13.70,23.35 L14.33,22.22 L14.92,21.11 L15.47,20.01 L15.88,18.90 L15.88,18.90 L15.07,19.77 L14.33,20.74 L13.60,21.76 L12.86,22.81 L12.11,23.89 L11.36,24.97 L10.60,26.06 L9.83,27.15 L9.05,28.23 L8.26,29.29 L7.46,30.33 L6.65,31.34Z M23.35,23.84 L24.67,23.94 L26.03,24.18 L27.42,24.54 L28.83,25.03 L30.25,25.64 L31.67,26.37 L33.08,27.20 L34.46,28.13 L35.80,29.16 L37.09,30.27 L38.33,31.46 L39.58,32.67 L39.58,32.67 L38.73,31.13 L37.65,29.73 L36.45,28.44 L35.14,27.25 L33.75,26.19 L32.30,25.26 L30.80,24.47 L29.28,23.84 L27.75,23.36 L26.23,23.07 L24.74,22.95 L23.31,23.03Z M6.96,7.90 L8.14,7.31 L9.32,6.70 L10.51,6.06 L11.71,5.41 L12.91,4.76 L14.11,4.10 L15.32,3.44 L16.54,2.79 L17.75,2.16 L18.97,1.53 L20.19,0.92 L21.38,0.23 L21.38,0.23 L20.02,0.48 L18.70,0.89 L17.40,1.37 L16.11,1.90 L14.84,2.48 L13.59,3.10 L12.36,3.75 L11.15,4.42 L9.97,5.12 L8.82,5.83 L7.70,6.55 L6.60,7.28Z M39.96,6.29 L40.72,6.47 L41.47,6.56 L42.19,6.58 L42.89,6.53 L43.56,6.42 L44.21,6.25 L44.84,6.04 L45.44,5.78 L46.03,5.49 L46.60,5.17 L47.17,4.81 L47.70,4.35 L47.70,4.35 L47.00,4.44 L46.36,4.61 L45.74,4.79 L45.14,4.97 L44.54,5.14 L43.95,5.30 L43.36,5.43 L42.75,5.55 L42.13,5.63 L41.48,5.69 L40.80,5.70 L40.07,5.68Z M-4.77,38.76 L-4.57,39.55 L-4.33,40.33 L-4.06,41.11 L-3.75,41.88 L-3.41,42.64 L-3.05,43.38 L-2.65,44.10 L-2.23,44.80 L-1.79,45.48 L-1.31,46.13 L-0.81,46.74 L-0.21,47.28 L-0.21,47.28 L-0.46,46.52 L-0.79,45.81 L-1.13,45.10 L-1.47,44.38 L-1.82,43.66 L-2.16,42.94 L-2.50,42.21 L-2.84,41.48 L-3.18,40.75 L-3.51,40.02 L-3.84,39.29 L-4.17,38.56Z M18.47,3.75 L19.08,3.10 L19.67,2.45 L20.24,1.79 L20.80,1.13 L21.35,0.48 L21.89,-0.16 L22.43,-0.78 L22.97,-1.38 L23.52,-1.95 L24.09,-2.51 L24.67,-3.04 L25.25,-3.63 L25.25,-3.63 L24.44,-3.41 L23.70,-3.03 L23.00,-2.57 L22.33,-2.05 L21.70,-1.48 L21.10,-0.86 L20.52,-0.22 L19.97,0.46 L19.45,1.16 L18.93,1.87 L18.44,2.59 L17.95,3.32Z M37.50,-33.13 L36.22,-32.17 L35.04,-31.21 L33.94,-30.26 L32.91,-29.33 L31.96,-28.44 L31.08,-27.60 L30.25,-26.82 L29.48,-26.10 L28.76,-25.47 L28.09,-24.91 L27.44,-24.44 L26.84,-23.97 L26.84,-23.97 L27.62,-24.07 L28.41,-24.40 L29.21,-24.86 L30.04,-25.43 L30.88,-26.11 L31.75,-26.87 L32.65,-27.71 L33.60,-28.61 L34.58,-29.56 L35.62,-30.55 L36.72,-31.58 L37.89,-32.64Z" fill="#f2f4f7" opacity="0.85"/></g>
  <g id="hairsS"><path d="M-8.52,-11.70 L-8.57,-12.33 L-8.61,-12.94 L-8.66,-13.53 L-8.70,-14.11 L-8.75,-14.68 L-8.80,-15.24 L-8.85,-15.79 L-8.91,-16.34 L-8.96,-16.88 L-9.03,-17.42 L-9.10,-17.97 L-9.30,-18.54 L-9.30,-18.54 L-9.66,-18.04 L-9.86,-17.50 L-10.01,-16.94 L-10.11,-16.36 L-10.16,-15.77 L-10.17,-15.17 L-10.14,-14.56 L-10.07,-13.95 L-9.96,-13.34 L-9.81,-12.72 L-9.61,-12.11 L-9.37,-11.49Z M-11.68,-11.60 L-12.02,-11.66 L-12.35,-11.68 L-12.68,-11.67 L-13.01,-11.62 L-13.32,-11.54 L-13.62,-11.43 L-13.90,-11.29 L-14.17,-11.11 L-14.41,-10.91 L-14.62,-10.68 L-14.81,-10.41 L-14.89,-10.05 L-14.89,-10.05 L-14.53,-10.03 L-14.24,-10.09 L-13.97,-10.15 L-13.72,-10.22 L-13.47,-10.29 L-13.22,-10.36 L-12.98,-10.43 L-12.73,-10.51 L-12.47,-10.59 L-12.21,-10.68 L-11.93,-10.77 L-11.64,-10.88Z M-13.15,-3.77 L-13.75,-3.97 L-14.32,-4.17 L-14.88,-4.38 L-15.43,-4.60 L-15.97,-4.82 L-16.50,-5.05 L-17.04,-5.30 L-17.58,-5.56 L-18.13,-5.83 L-18.69,-6.12 L-19.28,-6.42 L-19.99,-6.65 L-19.99,-6.65 L-19.73,-5.94 L-19.32,-5.37 L-18.85,-4.85 L-18.35,-4.39 L-17.80,-3.98 L-17.22,-3.62 L-16.61,-3.32 L-15.97,-3.08 L-15.32,-2.91 L-14.64,-2.79 L-13.96,-2.74 L-13.27,-2.76Z M3.84,-15.57 L4.05,-16.05 L4.21,-16.53 L4.32,-17.02 L4.40,-17.52 L4.43,-18.01 L4.42,-18.49 L4.36,-18.97 L4.26,-19.44 L4.12,-19.90 L3.93,-20.33 L3.68,-20.74 L3.29,-21.09 L3.29,-21.09 L3.19,-20.59 L3.18,-20.15 L3.17,-19.72 L3.17,-19.30 L3.17,-18.88 L3.16,-18.46 L3.15,-18.03 L3.14,-17.60 L3.13,-17.17 L3.11,-16.71 L3.09,-16.25 L3.07,-15.76Z M7.63,-13.56 L7.83,-14.06 L8.04,-14.54 L8.25,-15.01 L8.47,-15.46 L8.70,-15.92 L8.95,-16.37 L9.21,-16.83 L9.49,-17.29 L9.80,-17.76 L10.12,-18.25 L10.46,-18.76 L10.76,-19.38 L10.76,-19.38 L10.08,-19.18 L9.53,-18.85 L9.02,-18.46 L8.56,-18.04 L8.15,-17.58 L7.78,-17.09 L7.47,-16.57 L7.21,-16.03 L7.01,-15.47 L6.87,-14.89 L6.79,-14.30 L6.77,-13.70Z M12.48,-10.90 L12.83,-11.00 L13.19,-11.09 L13.55,-11.19 L13.92,-11.28 L14.31,-11.38 L14.72,-11.48 L15.16,-11.58 L15.61,-11.68 L16.10,-11.79 L16.61,-11.90 L17.15,-12.03 L17.73,-12.27 L17.73,-12.27 L17.16,-12.55 L16.60,-12.68 L16.04,-12.75 L15.51,-12.78 L14.99,-12.77 L14.49,-12.71 L14.01,-12.62 L13.56,-12.49 L13.13,-12.32 L12.74,-12.11 L12.38,-11.86 L12.06,-11.58Z M12.44,-2.70 L13.14,-2.90 L13.80,-3.18 L14.43,-3.51 L15.01,-3.91 L15.55,-4.37 L16.04,-4.88 L16.47,-5.44 L16.84,-6.04 L17.14,-6.69 L17.39,-7.37 L17.55,-8.10 L17.54,-8.88 L17.54,-8.88 L17.03,-8.31 L16.63,-7.74 L16.23,-7.20 L15.84,-6.71 L15.43,-6.24 L15.02,-5.80 L14.59,-5.38 L14.15,-4.98 L13.68,-4.60 L13.19,-4.23 L12.67,-3.86 L12.11,-3.50Z M-14.80,-1.10 L-15.23,-0.90 L-15.63,-0.66 L-16.02,-0.40 L-16.38,-0.12 L-16.72,0.19 L-17.03,0.52 L-17.31,0.87 L-17.56,1.24 L-17.78,1.63 L-17.97,2.04 L-18.11,2.47 L-18.12,2.97 L-18.12,2.97 L-17.68,2.76 L-17.34,2.49 L-17.02,2.22 L-16.71,1.94 L-16.41,1.67 L-16.11,1.39 L-15.82,1.10 L-15.52,0.81 L-15.23,0.51 L-14.94,0.20 L-14.64,-0.12 L-14.34,-0.45Z M-13.28,7.29 L-13.82,7.27 L-14.35,7.26 L-14.87,7.26 L-15.38,7.26 L-15.88,7.27 L-16.37,7.29 L-16.86,7.32 L-17.34,7.35 L-17.82,7.39 L-18.31,7.45 L-18.80,7.52 L-19.32,7.72 L-19.32,7.72 L-18.88,8.08 L-18.41,8.28 L-17.91,8.43 L-17.41,8.55 L-16.89,8.62 L-16.37,8.66 L-15.84,8.67 L-15.30,8.64 L-14.76,8.57 L-14.22,8.47 L-13.68,8.33 L-13.14,8.15Z M-8.12,11.88 L-8.47,12.23 L-8.82,12.58 L-9.17,12.93 L-9.53,13.28 L-9.90,13.63 L-10.28,13.99 L-10.68,14.36 L-11.09,14.74 L-11.52,15.14 L-11.97,15.55 L-12.43,15.98 L-12.86,16.54 L-12.86,16.54 L-12.15,16.47 L-11.52,16.26 L-10.94,16.01 L-10.38,15.71 L-9.87,15.39 L-9.39,15.03 L-8.94,14.64 L-8.54,14.23 L-8.18,13.79 L-7.86,13.33 L-7.60,12.84 L-7.38,12.34Z M15.14,5.71 L15.46,6.01 L15.78,6.31 L16.10,6.61 L16.42,6.91 L16.74,7.22 L17.07,7.55 L17.40,7.88 L17.75,8.23 L18.11,8.60 L18.49,8.99 L18.89,9.39 L19.41,9.75 L19.41,9.75 L19.38,9.10 L19.20,8.54 L18.97,8.01 L18.71,7.51 L18.41,7.05 L18.08,6.62 L17.72,6.23 L17.33,5.88 L16.91,5.57 L16.48,5.31 L16.02,5.10 L15.55,4.95Z M8.16,10.42 L8.06,11.04 L8.01,11.67 L8.02,12.30 L8.07,12.93 L8.18,13.56 L8.34,14.19 L8.55,14.80 L8.80,15.40 L9.11,15.99 L9.47,16.56 L9.88,17.10 L10.43,17.57 L10.43,17.57 L10.34,16.86 L10.16,16.23 L10.00,15.62 L9.84,15.02 L9.69,14.44 L9.56,13.87 L9.43,13.30 L9.32,12.73 L9.22,12.17 L9.12,11.60 L9.04,11.03 L8.96,10.45Z M-5.02,-15.72 L-4.96,-15.32 L-4.86,-14.92 L-4.74,-14.52 L-4.57,-14.12 L-4.37,-13.73 L-4.12,-13.36 L-3.83,-13.00 L-3.49,-12.68 L-3.10,-12.39 L-2.66,-12.16 L-2.17,-11.98 L-1.62,-11.95 L-1.61,-11.95 L-1.97,-12.36 L-2.30,-12.68 L-2.59,-12.99 L-2.84,-13.31 L-3.07,-13.62 L-3.27,-13.94 L-3.47,-14.26 L-3.65,-14.59 L-3.83,-14.92 L-4.02,-15.26 L-4.21,-15.60 L-4.41,-15.94Z M2.19,-12.60 L1.55,-12.54 L0.91,-12.39 L0.27,-12.15 L-0.34,-11.82 L-0.91,-11.40 L-1.43,-10.90 L-1.87,-10.32 L-2.22,-9.67 L-2.46,-8.96 L-2.57,-8.20 L-2.54,-7.41 L-2.26,-6.62 L-2.26,-6.62 L-2.03,-7.39 L-1.82,-8.05 L-1.56,-8.64 L-1.25,-9.15 L-0.90,-9.62 L-0.51,-10.04 L-0.09,-10.42 L0.36,-10.77 L0.84,-11.08 L1.33,-11.36 L1.83,-11.60 L2.33,-11.82Z M3.69,-12.02 L3.51,-11.76 L3.30,-11.52 L3.07,-11.29 L2.81,-11.04 L2.55,-10.77 L2.28,-10.48 L2.03,-10.16 L1.81,-9.80 L1.64,-9.40 L1.55,-8.97 L1.57,-8.52 L1.78,-8.07 L1.78,-8.08 L1.99,-8.48 L2.16,-8.79 L2.34,-9.05 L2.55,-9.29 L2.79,-9.53 L3.04,-9.78 L3.30,-10.04 L3.57,-10.33 L3.82,-10.65 L4.05,-11.00 L4.22,-11.39 L4.32,-11.82Z M0.67,-6.01 L0.92,-5.80 L1.19,-5.60 L1.45,-5.41 L1.71,-5.23 L1.97,-5.05 L2.23,-4.88 L2.47,-4.71 L2.71,-4.53 L2.95,-4.35 L3.18,-4.15 L3.41,-3.94 L3.71,-3.71 L3.71,-3.71 L3.74,-4.11 L3.64,-4.46 L3.48,-4.79 L3.28,-5.09 L3.04,-5.37 L2.78,-5.61 L2.50,-5.82 L2.20,-6.01 L1.89,-6.17 L1.58,-6.31 L1.26,-6.42 L0.95,-6.52Z M-6.31,-1.97 L-5.95,-2.14 L-5.61,-2.33 L-5.30,-2.53 L-5.00,-2.74 L-4.72,-2.94 L-4.46,-3.15 L-4.22,-3.36 L-4.00,-3.56 L-3.78,-3.76 L-3.58,-3.96 L-3.39,-4.16 L-3.23,-4.43 L-3.23,-4.43 L-3.55,-4.47 L-3.85,-4.41 L-4.14,-4.31 L-4.43,-4.18 L-4.71,-4.02 L-4.98,-3.83 L-5.26,-3.63 L-5.53,-3.42 L-5.80,-3.19 L-6.07,-2.94 L-6.34,-2.69 L-6.61,-2.42Z M-3.49,-4.30 L-3.39,-3.93 L-3.27,-3.56 L-3.13,-3.18 L-2.96,-2.80 L-2.77,-2.42 L-2.56,-2.04 L-2.31,-1.67 L-2.03,-1.31 L-1.71,-0.97 L-1.36,-0.65 L-0.97,-0.36 L-0.48,-0.16 L-0.48,-0.16 L-0.70,-0.62 L-0.94,-1.02 L-1.16,-1.40 L-1.37,-1.77 L-1.57,-2.14 L-1.76,-2.50 L-1.95,-2.86 L-2.14,-3.21 L-2.34,-3.56 L-2.54,-3.90 L-2.75,-4.23 L-2.97,-4.55Z M8.25,-5.12 L8.44,-5.15 L8.61,-5.18 L8.77,-5.21 L8.92,-5.25 L9.06,-5.29 L9.21,-5.34 L9.37,-5.40 L9.53,-5.47 L9.71,-5.55 L9.90,-5.65 L10.11,-5.76 L10.34,-5.98 L10.34,-5.98 L10.09,-6.18 L9.86,-6.28 L9.62,-6.33 L9.40,-6.36 L9.17,-6.37 L8.96,-6.34 L8.75,-6.29 L8.55,-6.21 L8.36,-6.11 L8.19,-5.99 L8.04,-5.84 L7.90,-5.67Z M-14.64,-7.25 L-14.19,-6.80 L-13.69,-6.41 L-13.14,-6.09 L-12.56,-5.84 L-11.96,-5.66 L-11.33,-5.55 L-10.70,-5.51 L-10.07,-5.54 L-9.44,-5.65 L-8.84,-5.83 L-8.26,-6.08 L-7.75,-6.49 L-7.75,-6.49 L-8.39,-6.53 L-8.97,-6.51 L-9.54,-6.52 L-10.09,-6.54 L-10.63,-6.60 L-11.17,-6.68 L-11.69,-6.79 L-12.20,-6.93 L-12.70,-7.09 L-13.19,-7.29 L-13.68,-7.53 L-14.17,-7.80Z M-15.67,0.22 L-15.27,-0.04 L-14.90,-0.28 L-14.53,-0.50 L-14.18,-0.69 L-13.84,-0.87 L-13.52,-1.02 L-13.19,-1.16 L-12.88,-1.28 L-12.56,-1.39 L-12.23,-1.49 L-11.89,-1.58 L-11.50,-1.74 L-11.50,-1.74 L-11.83,-2.05 L-12.22,-2.19 L-12.63,-2.26 L-13.06,-2.27 L-13.50,-2.21 L-13.93,-2.09 L-14.36,-1.91 L-14.77,-1.68 L-15.16,-1.40 L-15.53,-1.07 L-15.87,-0.70 L-16.18,-0.29Z M-12.34,2.88 L-11.92,2.68 L-11.53,2.50 L-11.14,2.34 L-10.77,2.20 L-10.40,2.07 L-10.04,1.95 L-9.67,1.84 L-9.30,1.74 L-8.93,1.64 L-8.55,1.55 L-8.16,1.45 L-7.75,1.26 L-7.75,1.26 L-8.15,1.03 L-8.57,0.92 L-8.99,0.86 L-9.42,0.85 L-9.86,0.88 L-10.30,0.96 L-10.73,1.08 L-11.16,1.24 L-11.57,1.45 L-11.98,1.71 L-12.36,2.01 L-12.73,2.36Z M-5.95,10.02 L-5.61,9.92 L-5.27,9.79 L-4.95,9.63 L-4.65,9.44 L-4.36,9.22 L-4.10,8.98 L-3.85,8.71 L-3.62,8.43 L-3.42,8.12 L-3.23,7.80 L-3.08,7.45 L-3.00,7.04 L-3.00,7.04 L-3.37,7.22 L-3.67,7.44 L-3.94,7.66 L-4.21,7.88 L-4.46,8.09 L-4.71,8.30 L-4.96,8.51 L-5.20,8.71 L-5.44,8.90 L-5.69,9.10 L-5.94,9.29 L-6.19,9.49Z M-3.65,1.64 L-3.67,2.03 L-3.65,2.41 L-3.59,2.78 L-3.50,3.15 L-3.37,3.49 L-3.21,3.82 L-3.02,4.12 L-2.81,4.39 L-2.56,4.63 L-2.29,4.83 L-2.00,4.98 L-1.65,5.01 L-1.65,5.01 L-1.75,4.69 L-1.89,4.44 L-2.02,4.19 L-2.15,3.93 L-2.28,3.67 L-2.40,3.41 L-2.52,3.13 L-2.63,2.85 L-2.75,2.55 L-2.86,2.24 L-2.96,1.92 L-3.07,1.59Z M-2.56,12.28 L-2.44,12.56 L-2.31,12.84 L-2.17,13.13 L-2.01,13.42 L-1.83,13.71 L-1.64,14.00 L-1.43,14.29 L-1.20,14.57 L-0.94,14.85 L-0.67,15.11 L-0.36,15.36 L0.03,15.54 L0.03,15.54 L-0.06,15.13 L-0.22,14.78 L-0.37,14.45 L-0.53,14.12 L-0.70,13.81 L-0.87,13.51 L-1.05,13.21 L-1.23,12.93 L-1.43,12.66 L-1.64,12.40 L-1.86,12.16 L-2.09,11.94Z M2.31,10.28 L2.65,10.00 L2.96,9.71 L3.26,9.38 L3.55,9.04 L3.81,8.69 L4.05,8.32 L4.27,7.95 L4.47,7.57 L4.65,7.19 L4.81,6.81 L4.94,6.43 L4.97,6.01 L4.97,6.01 L4.62,6.23 L4.33,6.52 L4.06,6.82 L3.80,7.14 L3.54,7.47 L3.29,7.81 L3.05,8.15 L2.80,8.50 L2.57,8.85 L2.34,9.19 L2.11,9.54 L1.89,9.88Z M7.54,7.69 L7.97,7.77 L8.40,7.88 L8.83,8.02 L9.28,8.18 L9.73,8.38 L10.18,8.61 L10.63,8.86 L11.09,9.14 L11.54,9.44 L11.99,9.77 L12.44,10.11 L12.95,10.43 L12.95,10.43 L12.77,9.84 L12.45,9.33 L12.07,8.86 L11.64,8.43 L11.18,8.04 L10.69,7.71 L10.17,7.43 L9.64,7.22 L9.10,7.06 L8.55,6.98 L8.02,6.97 L7.51,7.04Z M2.24,2.54 L2.64,2.39 L3.04,2.22 L3.44,2.03 L3.83,1.83 L4.22,1.62 L4.60,1.41 L4.99,1.18 L5.37,0.95 L5.75,0.72 L6.12,0.48 L6.50,0.23 L6.85,-0.10 L6.85,-0.10 L6.36,-0.12 L5.90,-0.03 L5.46,0.09 L5.02,0.23 L4.59,0.41 L4.18,0.60 L3.77,0.81 L3.38,1.03 L3.00,1.27 L2.64,1.51 L2.29,1.77 L1.95,2.04Z M12.91,2.03 L13.15,2.12 L13.39,2.17 L13.63,2.20 L13.86,2.19 L14.09,2.16 L14.30,2.10 L14.50,2.02 L14.70,1.91 L14.88,1.80 L15.05,1.66 L15.21,1.50 L15.34,1.26 L15.34,1.26 L15.08,1.20 L14.85,1.21 L14.64,1.23 L14.45,1.26 L14.26,1.29 L14.09,1.33 L13.92,1.36 L13.75,1.40 L13.58,1.43 L13.40,1.46 L13.21,1.50 L13.00,1.53Z M-1.53,12.52 L-1.50,12.78 L-1.45,13.05 L-1.38,13.31 L-1.29,13.56 L-1.18,13.81 L-1.06,14.05 L-0.92,14.28 L-0.77,14.49 L-0.60,14.70 L-0.41,14.89 L-0.21,15.06 L0.06,15.18 L0.06,15.18 L0.07,14.89 L0.01,14.64 L-0.07,14.39 L-0.15,14.16 L-0.24,13.92 L-0.34,13.69 L-0.44,13.46 L-0.55,13.24 L-0.67,13.01 L-0.79,12.79 L-0.92,12.57 L-1.05,12.36Z M5.96,1.21 L6.19,1.02 L6.40,0.83 L6.60,0.63 L6.79,0.42 L6.97,0.21 L7.14,0.01 L7.30,-0.20 L7.46,-0.41 L7.61,-0.61 L7.77,-0.82 L7.93,-1.04 L8.08,-1.32 L8.07,-1.32 L7.74,-1.33 L7.46,-1.24 L7.19,-1.11 L6.94,-0.95 L6.71,-0.77 L6.50,-0.56 L6.30,-0.35 L6.12,-0.12 L5.95,0.11 L5.80,0.36 L5.66,0.61 L5.54,0.86Z M12.12,-10.70 L11.68,-10.41 L11.28,-10.12 L10.91,-9.83 L10.57,-9.53 L10.27,-9.25 L9.98,-8.97 L9.73,-8.71 L9.49,-8.47 L9.28,-8.24 L9.08,-8.04 L8.89,-7.84 L8.72,-7.59 L8.72,-7.59 L9.04,-7.54 L9.34,-7.62 L9.64,-7.75 L9.94,-7.93 L10.23,-8.14 L10.53,-8.39 L10.82,-8.66 L11.13,-8.95 L11.43,-9.26 L11.75,-9.59 L12.08,-9.94 L12.43,-10.30Z" fill="#8f9ab0" opacity="0.6"/><path d="M-8.46,-11.71 L-8.55,-12.33 L-8.64,-12.93 L-8.71,-13.52 L-8.78,-14.10 L-8.83,-14.68 L-8.87,-15.24 L-8.91,-15.79 L-8.93,-16.34 L-8.94,-16.88 L-8.95,-17.41 L-8.95,-17.95 L-9.00,-18.49 L-9.00,-18.49 L-9.21,-17.98 L-9.33,-17.45 L-9.41,-16.90 L-9.47,-16.35 L-9.49,-15.78 L-9.49,-15.21 L-9.46,-14.62 L-9.39,-14.03 L-9.30,-13.44 L-9.17,-12.84 L-9.02,-12.23 L-8.84,-11.62Z M-11.68,-11.66 L-12.02,-11.67 L-12.35,-11.66 L-12.67,-11.62 L-12.99,-11.56 L-13.30,-11.48 L-13.60,-11.37 L-13.89,-11.25 L-14.16,-11.10 L-14.42,-10.92 L-14.66,-10.73 L-14.88,-10.51 L-15.05,-10.24 L-15.05,-10.24 L-14.75,-10.34 L-14.49,-10.47 L-14.22,-10.58 L-13.96,-10.69 L-13.69,-10.80 L-13.42,-10.89 L-13.15,-10.98 L-12.87,-11.06 L-12.58,-11.14 L-12.28,-11.21 L-11.98,-11.27 L-11.67,-11.33Z M-13.14,-3.84 L-13.75,-3.98 L-14.33,-4.14 L-14.90,-4.32 L-15.46,-4.52 L-16.00,-4.74 L-16.54,-4.98 L-17.07,-5.24 L-17.59,-5.53 L-18.12,-5.85 L-18.64,-6.19 L-19.16,-6.55 L-19.74,-6.90 L-19.74,-6.90 L-19.36,-6.34 L-18.92,-5.85 L-18.44,-5.41 L-17.94,-5.01 L-17.41,-4.65 L-16.86,-4.33 L-16.29,-4.06 L-15.70,-3.84 L-15.10,-3.66 L-14.48,-3.52 L-13.84,-3.43 L-13.20,-3.39Z M3.90,-15.55 L4.06,-16.04 L4.18,-16.54 L4.27,-17.03 L4.33,-17.52 L4.36,-18.01 L4.35,-18.49 L4.31,-18.97 L4.24,-19.44 L4.13,-19.90 L3.99,-20.35 L3.81,-20.78 L3.56,-21.19 L3.56,-21.19 L3.59,-20.72 L3.66,-20.27 L3.71,-19.82 L3.75,-19.37 L3.77,-18.93 L3.79,-18.48 L3.78,-18.02 L3.77,-17.56 L3.73,-17.09 L3.69,-16.62 L3.63,-16.13 L3.56,-15.64Z M7.70,-13.55 L7.84,-14.06 L8.01,-14.55 L8.20,-15.03 L8.40,-15.49 L8.63,-15.95 L8.89,-16.41 L9.17,-16.86 L9.48,-17.30 L9.81,-17.75 L10.17,-18.19 L10.56,-18.65 L10.95,-19.14 L10.95,-19.14 L10.39,-18.84 L9.91,-18.46 L9.46,-18.06 L9.05,-17.64 L8.69,-17.20 L8.36,-16.73 L8.08,-16.25 L7.84,-15.75 L7.64,-15.23 L7.49,-14.70 L7.38,-14.16 L7.31,-13.61Z M12.52,-10.85 L12.84,-10.99 L13.18,-11.11 L13.53,-11.23 L13.90,-11.35 L14.30,-11.45 L14.71,-11.54 L15.15,-11.63 L15.61,-11.70 L16.10,-11.77 L16.61,-11.84 L17.15,-11.89 L17.72,-11.99 L17.72,-11.99 L17.15,-12.13 L16.61,-12.18 L16.07,-12.20 L15.56,-12.20 L15.08,-12.16 L14.61,-12.10 L14.16,-12.01 L13.74,-11.89 L13.35,-11.74 L12.98,-11.57 L12.64,-11.38 L12.33,-11.15Z M12.46,-2.64 L13.14,-2.89 L13.79,-3.20 L14.40,-3.56 L14.97,-3.97 L15.50,-4.42 L15.98,-4.92 L16.42,-5.47 L16.82,-6.05 L17.16,-6.68 L17.45,-7.34 L17.69,-8.04 L17.83,-8.79 L17.83,-8.79 L17.46,-8.13 L17.11,-7.50 L16.75,-6.91 L16.37,-6.35 L15.96,-5.83 L15.53,-5.34 L15.07,-4.88 L14.58,-4.45 L14.06,-4.05 L13.51,-3.67 L12.93,-3.32 L12.32,-3.00Z M-14.83,-1.15 L-15.24,-0.91 L-15.62,-0.65 L-15.99,-0.37 L-16.34,-0.07 L-16.67,0.24 L-16.98,0.56 L-17.27,0.90 L-17.54,1.26 L-17.80,1.62 L-18.02,2.00 L-18.22,2.40 L-18.36,2.82 L-18.36,2.82 L-18.03,2.52 L-17.74,2.20 L-17.45,1.89 L-17.16,1.57 L-16.87,1.26 L-16.57,0.95 L-16.26,0.65 L-15.95,0.35 L-15.63,0.05 L-15.30,-0.26 L-14.97,-0.56 L-14.63,-0.86Z M-13.29,7.22 L-13.82,7.26 L-14.35,7.29 L-14.86,7.31 L-15.37,7.33 L-15.87,7.35 L-16.37,7.36 L-16.86,7.37 L-17.34,7.37 L-17.82,7.37 L-18.30,7.37 L-18.77,7.37 L-19.26,7.42 L-19.26,7.42 L-18.81,7.62 L-18.34,7.75 L-17.86,7.84 L-17.37,7.91 L-16.87,7.96 L-16.37,7.98 L-15.86,7.98 L-15.34,7.95 L-14.82,7.90 L-14.29,7.83 L-13.76,7.73 L-13.23,7.61Z M-8.18,11.85 L-8.48,12.22 L-8.80,12.60 L-9.13,12.96 L-9.48,13.33 L-9.85,13.69 L-10.24,14.05 L-10.65,14.40 L-11.08,14.76 L-11.53,15.12 L-12.01,15.48 L-12.50,15.85 L-13.00,16.27 L-13.00,16.27 L-12.38,16.07 L-11.81,15.80 L-11.27,15.51 L-10.76,15.20 L-10.28,14.86 L-9.83,14.51 L-9.42,14.14 L-9.03,13.75 L-8.68,13.35 L-8.37,12.93 L-8.09,12.50 L-7.85,12.05Z M15.11,5.77 L15.45,6.02 L15.80,6.29 L16.13,6.56 L16.46,6.86 L16.79,7.17 L17.12,7.50 L17.44,7.85 L17.77,8.22 L18.09,8.61 L18.42,9.03 L18.76,9.46 L19.14,9.90 L19.14,9.90 L18.98,9.33 L18.74,8.82 L18.48,8.34 L18.20,7.89 L17.90,7.47 L17.57,7.08 L17.23,6.72 L16.87,6.39 L16.50,6.10 L16.11,5.84 L15.71,5.61 L15.29,5.43Z M8.10,10.41 L8.05,11.04 L8.04,11.67 L8.07,12.29 L8.14,12.92 L8.25,13.55 L8.40,14.17 L8.59,14.79 L8.82,15.40 L9.09,16.00 L9.40,16.59 L9.76,17.17 L10.19,17.71 L10.19,17.71 L9.96,17.06 L9.72,16.44 L9.49,15.83 L9.29,15.23 L9.11,14.62 L8.95,14.03 L8.81,13.43 L8.70,12.83 L8.61,12.24 L8.54,11.64 L8.49,11.04 L8.46,10.43Z M-5.07,-15.70 L-4.97,-15.32 L-4.85,-14.93 L-4.70,-14.54 L-4.53,-14.15 L-4.32,-13.76 L-4.08,-13.39 L-3.80,-13.03 L-3.48,-12.69 L-3.11,-12.38 L-2.69,-12.11 L-2.23,-11.88 L-1.70,-11.74 L-1.70,-11.74 L-2.14,-12.05 L-2.53,-12.34 L-2.88,-12.65 L-3.19,-12.97 L-3.46,-13.30 L-3.70,-13.65 L-3.91,-14.00 L-4.11,-14.36 L-4.29,-14.72 L-4.46,-15.08 L-4.63,-15.44 L-4.79,-15.80Z M2.18,-12.66 L1.55,-12.55 L0.92,-12.37 L0.30,-12.10 L-0.30,-11.76 L-0.86,-11.35 L-1.38,-10.86 L-1.83,-10.29 L-2.20,-9.66 L-2.48,-8.97 L-2.64,-8.22 L-2.68,-7.42 L-2.54,-6.59 L-2.54,-6.59 L-2.45,-7.41 L-2.30,-8.15 L-2.07,-8.82 L-1.76,-9.43 L-1.39,-9.98 L-0.97,-10.47 L-0.50,-10.91 L0.01,-11.29 L0.55,-11.62 L1.11,-11.90 L1.67,-12.13 L2.24,-12.31Z M3.65,-12.03 L3.50,-11.77 L3.31,-11.51 L3.10,-11.26 L2.85,-11.00 L2.59,-10.73 L2.32,-10.44 L2.06,-10.13 L1.82,-9.79 L1.63,-9.41 L1.50,-8.99 L1.45,-8.53 L1.55,-8.05 L1.55,-8.05 L1.64,-8.51 L1.77,-8.90 L1.95,-9.25 L2.16,-9.56 L2.40,-9.85 L2.66,-10.13 L2.93,-10.40 L3.19,-10.68 L3.44,-10.97 L3.65,-11.28 L3.82,-11.60 L3.93,-11.94Z M0.65,-5.97 L0.92,-5.79 L1.19,-5.62 L1.47,-5.44 L1.74,-5.27 L2.00,-5.10 L2.25,-4.92 L2.50,-4.74 L2.72,-4.54 L2.94,-4.34 L3.13,-4.13 L3.32,-3.89 L3.52,-3.64 L3.52,-3.64 L3.47,-3.97 L3.34,-4.27 L3.18,-4.54 L2.98,-4.80 L2.75,-5.03 L2.50,-5.25 L2.24,-5.44 L1.96,-5.62 L1.67,-5.78 L1.37,-5.93 L1.07,-6.07 L0.77,-6.20Z M-6.28,-1.94 L-5.95,-2.14 L-5.62,-2.35 L-5.32,-2.56 L-5.03,-2.77 L-4.75,-2.98 L-4.49,-3.19 L-4.24,-3.38 L-4.00,-3.57 L-3.78,-3.75 L-3.56,-3.92 L-3.35,-4.07 L-3.16,-4.25 L-3.16,-4.25 L-3.42,-4.22 L-3.68,-4.12 L-3.94,-4.00 L-4.20,-3.85 L-4.46,-3.68 L-4.72,-3.49 L-4.99,-3.29 L-5.26,-3.08 L-5.54,-2.85 L-5.83,-2.62 L-6.12,-2.38 L-6.42,-2.14Z M-3.53,-4.28 L-3.40,-3.93 L-3.25,-3.56 L-3.10,-3.19 L-2.92,-2.82 L-2.73,-2.44 L-2.52,-2.06 L-2.28,-1.69 L-2.01,-1.32 L-1.72,-0.96 L-1.40,-0.61 L-1.04,-0.29 L-0.62,-0.01 L-0.62,-0.01 L-0.92,-0.41 L-1.21,-0.78 L-1.47,-1.15 L-1.72,-1.53 L-1.95,-1.90 L-2.16,-2.27 L-2.36,-2.64 L-2.55,-3.00 L-2.74,-3.37 L-2.92,-3.72 L-3.11,-4.06 L-3.30,-4.39Z M8.28,-5.08 L8.44,-5.14 L8.60,-5.20 L8.75,-5.25 L8.90,-5.30 L9.05,-5.35 L9.20,-5.39 L9.36,-5.44 L9.53,-5.49 L9.71,-5.54 L9.90,-5.59 L10.11,-5.65 L10.34,-5.75 L10.34,-5.75 L10.10,-5.84 L9.88,-5.87 L9.67,-5.89 L9.47,-5.89 L9.27,-5.87 L9.08,-5.84 L8.90,-5.80 L8.73,-5.73 L8.57,-5.65 L8.41,-5.56 L8.26,-5.45 L8.12,-5.32Z M-14.68,-7.21 L-14.20,-6.79 L-13.68,-6.43 L-13.12,-6.13 L-12.54,-5.89 L-11.94,-5.72 L-11.32,-5.61 L-10.70,-5.55 L-10.07,-5.56 L-9.44,-5.63 L-8.83,-5.76 L-8.23,-5.96 L-7.66,-6.25 L-7.66,-6.25 L-8.28,-6.16 L-8.89,-6.07 L-9.48,-6.02 L-10.08,-6.01 L-10.67,-6.04 L-11.25,-6.11 L-11.82,-6.23 L-12.38,-6.38 L-12.92,-6.58 L-13.46,-6.83 L-13.97,-7.12 L-14.47,-7.46Z M-15.62,0.26 L-15.27,-0.03 L-14.91,-0.30 L-14.56,-0.54 L-14.21,-0.74 L-13.87,-0.92 L-13.54,-1.08 L-13.21,-1.20 L-12.88,-1.30 L-12.55,-1.38 L-12.23,-1.43 L-11.90,-1.45 L-11.56,-1.50 L-11.56,-1.50 L-11.88,-1.66 L-12.23,-1.74 L-12.59,-1.77 L-12.96,-1.74 L-13.34,-1.67 L-13.72,-1.56 L-14.10,-1.39 L-14.48,-1.19 L-14.84,-0.94 L-15.20,-0.66 L-15.53,-0.33 L-15.86,0.03Z M-12.31,2.92 L-11.92,2.69 L-11.54,2.48 L-11.16,2.30 L-10.79,2.15 L-10.42,2.01 L-10.05,1.90 L-9.68,1.80 L-9.31,1.72 L-8.93,1.66 L-8.55,1.61 L-8.17,1.56 L-7.77,1.49 L-7.77,1.49 L-8.16,1.37 L-8.56,1.32 L-8.96,1.31 L-9.36,1.32 L-9.76,1.37 L-10.17,1.45 L-10.57,1.57 L-10.96,1.72 L-11.36,1.90 L-11.74,2.13 L-12.12,2.38 L-12.48,2.68Z M-5.94,10.06 L-5.60,9.93 L-5.28,9.78 L-4.97,9.60 L-4.68,9.40 L-4.40,9.18 L-4.13,8.94 L-3.87,8.69 L-3.63,8.42 L-3.41,8.13 L-3.19,7.83 L-2.99,7.51 L-2.84,7.16 L-2.84,7.16 L-3.13,7.41 L-3.39,7.67 L-3.64,7.92 L-3.90,8.17 L-4.15,8.41 L-4.41,8.64 L-4.66,8.86 L-4.93,9.07 L-5.19,9.27 L-5.47,9.47 L-5.75,9.65 L-6.04,9.82Z M-3.69,1.64 L-3.68,2.03 L-3.63,2.41 L-3.56,2.78 L-3.45,3.13 L-3.33,3.47 L-3.17,3.80 L-2.99,4.10 L-2.79,4.38 L-2.57,4.64 L-2.33,4.86 L-2.06,5.05 L-1.76,5.17 L-1.76,5.17 L-1.95,4.92 L-2.15,4.69 L-2.33,4.44 L-2.50,4.18 L-2.66,3.90 L-2.81,3.61 L-2.94,3.31 L-3.06,3.00 L-3.18,2.67 L-3.27,2.33 L-3.36,1.98 L-3.43,1.62Z M-2.60,12.31 L-2.45,12.57 L-2.30,12.83 L-2.14,13.11 L-1.97,13.39 L-1.79,13.68 L-1.60,13.97 L-1.40,14.27 L-1.18,14.56 L-0.95,14.86 L-0.71,15.14 L-0.44,15.42 L-0.12,15.67 L-0.12,15.67 L-0.30,15.32 L-0.50,14.99 L-0.70,14.67 L-0.89,14.36 L-1.07,14.05 L-1.25,13.75 L-1.44,13.46 L-1.62,13.17 L-1.80,12.90 L-1.99,12.63 L-2.19,12.39 L-2.39,12.16Z M2.34,10.31 L2.65,10.01 L2.95,9.69 L3.23,9.36 L3.51,9.01 L3.76,8.66 L4.01,8.30 L4.24,7.93 L4.46,7.56 L4.66,7.20 L4.85,6.84 L5.02,6.48 L5.15,6.12 L5.15,6.12 L4.88,6.39 L4.64,6.70 L4.40,7.03 L4.16,7.37 L3.91,7.72 L3.67,8.07 L3.42,8.42 L3.17,8.77 L2.92,9.12 L2.67,9.46 L2.41,9.80 L2.15,10.13Z M7.55,7.74 L7.97,7.78 L8.40,7.86 L8.84,7.98 L9.29,8.13 L9.75,8.33 L10.21,8.56 L10.66,8.83 L11.10,9.12 L11.53,9.45 L11.95,9.81 L12.35,10.19 L12.76,10.57 L12.76,10.57 L12.50,10.06 L12.15,9.61 L11.77,9.19 L11.35,8.81 L10.90,8.46 L10.43,8.16 L9.95,7.90 L9.46,7.70 L8.96,7.55 L8.47,7.45 L7.99,7.42 L7.53,7.45Z M2.27,2.58 L2.65,2.40 L3.03,2.20 L3.42,2.00 L3.80,1.79 L4.19,1.58 L4.58,1.36 L4.97,1.15 L5.36,0.94 L5.75,0.73 L6.14,0.53 L6.53,0.33 L6.91,0.10 L6.91,0.10 L6.47,0.17 L6.04,0.30 L5.62,0.45 L5.20,0.62 L4.79,0.80 L4.39,1.00 L3.99,1.21 L3.60,1.43 L3.22,1.65 L2.85,1.88 L2.49,2.12 L2.14,2.36Z M12.90,2.07 L13.15,2.12 L13.39,2.16 L13.63,2.17 L13.86,2.15 L14.08,2.11 L14.29,2.06 L14.50,1.99 L14.69,1.90 L14.88,1.81 L15.07,1.70 L15.25,1.58 L15.41,1.42 L15.41,1.42 L15.19,1.44 L14.98,1.50 L14.78,1.55 L14.58,1.61 L14.39,1.66 L14.20,1.71 L14.00,1.75 L13.81,1.79 L13.61,1.82 L13.40,1.84 L13.18,1.85 L12.94,1.84Z M-1.57,12.53 L-1.51,12.79 L-1.43,13.04 L-1.35,13.29 L-1.25,13.54 L-1.14,13.79 L-1.02,14.03 L-0.89,14.26 L-0.75,14.49 L-0.61,14.71 L-0.45,14.92 L-0.28,15.11 L-0.08,15.28 L-0.08,15.28 L-0.16,15.03 L-0.26,14.80 L-0.37,14.57 L-0.48,14.34 L-0.59,14.10 L-0.70,13.87 L-0.81,13.63 L-0.92,13.40 L-1.03,13.16 L-1.14,12.93 L-1.24,12.69 L-1.35,12.46Z M5.99,1.23 L6.19,1.03 L6.39,0.82 L6.57,0.60 L6.75,0.39 L6.93,0.18 L7.10,-0.02 L7.27,-0.22 L7.45,-0.42 L7.62,-0.60 L7.80,-0.78 L7.99,-0.96 L8.17,-1.16 L8.17,-1.16 L7.90,-1.09 L7.66,-0.97 L7.43,-0.83 L7.22,-0.66 L7.01,-0.48 L6.81,-0.28 L6.63,-0.07 L6.45,0.15 L6.28,0.37 L6.12,0.61 L5.96,0.84 L5.80,1.08Z M12.09,-10.73 L11.68,-10.42 L11.29,-10.11 L10.93,-9.80 L10.60,-9.50 L10.30,-9.22 L10.01,-8.94 L9.75,-8.69 L9.50,-8.46 L9.27,-8.25 L9.05,-8.07 L8.85,-7.92 L8.66,-7.76 L8.66,-7.76 L8.92,-7.79 L9.17,-7.89 L9.43,-8.03 L9.70,-8.22 L9.97,-8.43 L10.26,-8.68 L10.55,-8.95 L10.85,-9.24 L11.17,-9.55 L11.50,-9.87 L11.86,-10.20 L12.23,-10.55Z" fill="#f4f5f8" opacity="0.7"/></g>
  <radialGradient id="sphS" cx="0.42" cy="0.38" r="0.66" fx="0.4" fy="0.3">
    <stop offset="0" stop-color="#eef0f3"/>
    <stop offset="0.35" stop-color="#d2d7df"/>
    <stop offset="0.75" stop-color="#afb6c4"/>
    <stop offset="1" stop-color="#919bb0"/>
  </radialGradient>
  <g id="recS">
    <path d="M-0.9,-14.5 L-0.9,-19 L0.9,-19 L0.9,-14.5" fill="#e8ebf0" stroke="#a7afbd" stroke-width="0.5"/>
    <path d="M-2.1,-23.1 A2.85,2.85 0 1 0 2.1,-23.1 L0.5,-23.1 L0.5,-22 L-0.5,-22 L-0.5,-23.1 Z" fill="#ee1010"/>
  </g>
  <g id="cartS">
    <use href="#hairsS"/>
    <circle r="16" fill="url(#sphS)"/>
    <use href="#hairsS" opacity="0.9"/>
    <use href="#recS"/>
    <use href="#recS" transform="rotate(45)"/>
    <use href="#recS" transform="rotate(90)"/>
    <use href="#recS" transform="rotate(135)"/>
    <use href="#recS" transform="rotate(180)"/>
    <use href="#recS" transform="rotate(225)"/>
    <use href="#recS" transform="rotate(270)"/>
    <use href="#recS" transform="rotate(315)"/>
  </g>
  <g id="rec">
    <rect x="-2.6" y="-58.5" width="5.2" height="22.5" fill="#eceef2" stroke="#a3abba" stroke-width="0.7" opacity="0.92"/>
    <line x1="0" y1="-58" x2="0" y2="-37" stroke="#b3bac7" stroke-width="0.6"/>
    <path d="M-5.23,-69.8 A7.1,7.1 0 1 0 5.23,-69.8 L2.15,-69.8 L2.15,-64 L-2.15,-64 L-2.15,-69.8 Z" fill="#f21212" stroke="#c4ccd6" stroke-width="0.4"/>
  </g>
  <g id="cart">
    <circle r="48" fill="url(#sph)"/>
    <g transform="scale(0.97)"><use href="#hairs"/></g>
    <use href="#rec"/>
    <use href="#rec" transform="rotate(45)"/>
    <use href="#rec" transform="rotate(90)"/>
    <use href="#rec" transform="rotate(135)"/>
    <use href="#rec" transform="rotate(180)"/>
    <use href="#rec" transform="rotate(225)"/>
    <use href="#rec" transform="rotate(270)"/>
    <use href="#rec" transform="rotate(315)"/>
  </g>
</defs>

<!-- Human body -->
<g id="body">
  <clipPath id="bodyclip"><path d="M130.0,154.3 C131.3,153.8 135.2,151.8 138.0,151.0 C140.8,150.2 142.8,149.5 146.5,149.3 C150.2,149.1 155.8,149.2 160.0,149.8 C164.2,150.4 168.5,151.7 172.0,152.8 C175.5,153.9 179.5,155.9 181.0,156.5 C181.1,157.0 182.0,157.6 181.8,159.5 C181.6,161.4 180.1,166.0 179.6,167.8 C179.1,169.6 178.7,169.1 178.8,170.5 C178.9,171.9 179.4,173.8 180.3,176.0 C181.2,178.2 182.8,181.4 184.0,183.5 C185.2,185.6 187.0,187.4 187.8,188.8 C188.6,190.2 188.8,190.7 188.6,191.8 C188.3,192.9 186.9,194.6 186.3,195.6 C185.7,196.6 185.1,197.4 184.9,197.8 C185.0,198.4 185.9,200.5 185.6,201.6 C185.3,202.7 183.8,203.8 183.3,204.3 C182.8,204.9 182.7,204.8 182.6,204.9 C183.0,205.2 184.4,205.9 184.8,206.8 C185.2,207.8 185.1,209.2 184.8,210.6 C184.6,212.0 184.2,213.6 183.3,215.0 C182.4,216.4 181.5,217.8 179.6,218.8 C177.7,219.8 174.5,220.6 172.0,220.8 C169.5,221.1 165.8,220.4 164.6,220.3 C164.5,221.1 164.1,223.4 164.0,225.0 C163.9,226.6 163.9,228.5 164.3,230.0 C164.7,231.5 165.1,232.7 166.2,234.0 C167.2,235.3 168.1,236.3 170.6,237.6 C173.1,238.9 177.8,240.1 181.0,241.6 C184.2,243.1 187.0,244.7 190.0,246.5 C193.0,248.3 196.4,250.6 199.0,252.4 C201.6,254.2 203.7,255.7 205.5,257.5 C207.3,259.3 208.6,261.1 210.0,263.2 C211.4,265.3 212.9,267.6 214.0,270.0 C215.1,272.4 215.6,273.4 216.3,277.7 C217.0,282.0 217.4,290.3 218.0,295.7 C218.6,301.1 219.2,305.9 219.8,310.0 C220.4,314.1 220.4,314.3 221.3,320.0 C222.2,325.7 224.3,336.0 225.1,344.0 C225.9,352.0 226.0,360.0 226.1,368.0 C226.2,376.0 225.8,385.2 225.6,392.0 C225.4,398.8 225.1,402.0 225.1,408.8 C225.1,415.6 225.1,425.2 225.6,432.8 C226.1,440.4 227.2,447.6 228.0,454.4 C228.8,461.2 230.0,469.0 230.4,473.6 C230.8,478.2 230.6,480.6 230.6,482.0 L218.9,482.0 C218.9,479.3 219.1,469.2 218.9,466.0 C218.7,462.8 218.4,463.3 217.8,462.6 C217.2,461.9 216.3,461.6 215.6,461.6 C214.9,461.6 213.9,461.9 213.4,462.6 C212.9,463.3 212.6,462.8 212.4,466.0 C212.2,469.2 212.4,479.3 212.4,482.0 L209.3,482.0 C209.3,478.3 209.3,465.6 209.3,460.0 C209.3,454.4 209.1,451.4 209.5,448.5 C209.9,445.6 212.0,447.4 211.7,442.4 C211.4,437.4 209.1,426.8 207.6,418.4 C206.1,410.0 204.2,400.4 202.8,392.0 C201.5,383.6 200.2,374.8 199.5,368.0 C198.8,361.2 199.3,355.6 198.7,351.2 C198.0,346.8 197.0,346.6 195.6,341.6 C194.2,336.6 191.0,324.6 190.1,321.2 C189.7,323.0 188.3,328.5 187.9,332.0 C187.5,335.5 187.6,336.0 187.7,342.0 C187.8,348.0 187.7,359.7 188.4,368.0 C189.1,376.3 190.4,384.0 192.0,392.0 C193.6,400.0 196.4,408.8 198.0,416.0 C199.6,423.2 200.8,429.2 201.6,435.2 C202.4,441.2 202.6,444.2 202.8,452.0 C203.0,459.8 202.8,477.0 202.8,482.0 L152.6,482.0 C152.6,478.7 152.8,467.8 152.6,462.0 C152.4,456.2 152.3,450.7 151.3,447.0 C150.3,443.3 148.3,440.0 146.8,440.0 C145.3,440.0 143.2,443.3 142.2,447.0 C141.1,450.7 140.8,456.2 140.5,462.0 C140.2,467.8 140.5,478.7 140.5,482.0 L90.7,482.0 C90.7,480.6 90.6,479.4 90.7,473.6 C90.8,467.8 90.5,454.4 91.2,447.2 C91.9,440.0 93.2,438.0 94.8,430.4 C96.4,422.8 99.1,412.0 100.8,401.6 C102.5,391.2 104.3,377.9 105.1,368.0 C105.9,358.1 105.7,348.3 105.6,342.0 C105.5,335.7 105.1,333.5 104.5,330.0 C103.9,326.5 102.4,322.7 102.0,321.2 C101.2,325.4 98.4,339.4 97.2,346.4 C96.0,353.4 96.0,354.8 94.8,363.2 C93.6,371.6 91.8,385.6 90.0,396.8 C88.2,408.0 85.4,422.8 84.0,430.4 C82.6,438.0 81.6,439.2 81.6,442.4 C81.6,445.6 83.4,446.7 83.8,449.6 C84.2,452.5 84.0,454.6 84.0,460.0 C84.0,465.4 84.0,478.3 84.0,482.0 L79.7,482.0 C79.7,479.3 79.9,469.2 79.7,466.0 C79.5,462.8 79.3,463.3 78.8,462.6 C78.3,461.9 77.5,461.6 76.8,461.6 C76.1,461.6 75.3,461.9 74.8,462.6 C74.3,463.3 74.1,462.8 73.9,466.0 C73.8,469.2 73.9,479.3 73.9,482.0 L63.4,482.0 C63.4,480.6 63.3,478.2 63.6,473.6 C63.9,469.0 64.5,460.0 65.3,454.4 C66.1,448.8 68.1,446.4 68.4,440.0 C68.7,433.6 67.7,426.0 67.2,416.0 C66.7,406.0 65.3,392.0 65.3,380.0 C65.3,368.0 66.3,354.0 67.2,344.0 C68.1,334.0 69.9,327.3 70.8,320.0 C71.7,312.7 72.0,305.8 72.6,300.0 C73.2,294.2 73.8,289.7 74.6,285.0 C75.4,280.3 76.3,275.9 77.6,272.0 C78.9,268.1 80.3,264.8 82.5,261.5 C84.7,258.2 88.1,254.7 91.0,252.4 C93.9,250.1 97.0,249.0 100.0,247.5 C103.0,246.0 105.8,244.9 109.0,243.4 C112.2,241.9 116.0,240.2 119.0,238.5 C122.0,236.8 125.2,235.2 127.0,233.5 C128.8,231.8 129.4,230.3 130.0,228.5 C130.6,226.7 130.8,224.6 130.8,222.5 C130.8,220.4 130.4,218.0 130.0,216.0 C129.6,214.0 129.5,213.2 128.5,210.6 C127.5,208.0 125.5,203.8 124.0,200.5 C122.5,197.2 120.8,193.8 119.5,191.0 C118.2,188.2 116.8,186.0 116.0,184.0 C115.2,182.0 115.1,180.8 115.0,179.0 C114.9,177.2 115.1,175.0 115.6,173.0 C116.1,171.0 116.8,169.2 118.0,167.0 C119.2,164.8 121.0,161.6 123.0,159.5 C125.0,157.4 128.8,155.2 130.0,154.3 Z"/></clipPath>
  <filter id="bl3" x="-50%" y="-50%" width="200%" height="200%"><feGaussianBlur stdDeviation="3"/></filter>
  <filter id="bl1" x="-50%" y="-50%" width="200%" height="200%"><feGaussianBlur stdDeviation="0.7"/></filter>
  <path d="M130.0,154.3 C131.3,153.8 135.2,151.8 138.0,151.0 C140.8,150.2 142.8,149.5 146.5,149.3 C150.2,149.1 155.8,149.2 160.0,149.8 C164.2,150.4 168.5,151.7 172.0,152.8 C175.5,153.9 179.5,155.9 181.0,156.5 C181.1,157.0 182.0,157.6 181.8,159.5 C181.6,161.4 180.1,166.0 179.6,167.8 C179.1,169.6 178.7,169.1 178.8,170.5 C178.9,171.9 179.4,173.8 180.3,176.0 C181.2,178.2 182.8,181.4 184.0,183.5 C185.2,185.6 187.0,187.4 187.8,188.8 C188.6,190.2 188.8,190.7 188.6,191.8 C188.3,192.9 186.9,194.6 186.3,195.6 C185.7,196.6 185.1,197.4 184.9,197.8 C185.0,198.4 185.9,200.5 185.6,201.6 C185.3,202.7 183.8,203.8 183.3,204.3 C182.8,204.9 182.7,204.8 182.6,204.9 C183.0,205.2 184.4,205.9 184.8,206.8 C185.2,207.8 185.1,209.2 184.8,210.6 C184.6,212.0 184.2,213.6 183.3,215.0 C182.4,216.4 181.5,217.8 179.6,218.8 C177.7,219.8 174.5,220.6 172.0,220.8 C169.5,221.1 165.8,220.4 164.6,220.3 C164.5,221.1 164.1,223.4 164.0,225.0 C163.9,226.6 163.9,228.5 164.3,230.0 C164.7,231.5 165.1,232.7 166.2,234.0 C167.2,235.3 168.1,236.3 170.6,237.6 C173.1,238.9 177.8,240.1 181.0,241.6 C184.2,243.1 187.0,244.7 190.0,246.5 C193.0,248.3 196.4,250.6 199.0,252.4 C201.6,254.2 203.7,255.7 205.5,257.5 C207.3,259.3 208.6,261.1 210.0,263.2 C211.4,265.3 212.9,267.6 214.0,270.0 C215.1,272.4 215.6,273.4 216.3,277.7 C217.0,282.0 217.4,290.3 218.0,295.7 C218.6,301.1 219.2,305.9 219.8,310.0 C220.4,314.1 220.4,314.3 221.3,320.0 C222.2,325.7 224.3,336.0 225.1,344.0 C225.9,352.0 226.0,360.0 226.1,368.0 C226.2,376.0 225.8,385.2 225.6,392.0 C225.4,398.8 225.1,402.0 225.1,408.8 C225.1,415.6 225.1,425.2 225.6,432.8 C226.1,440.4 227.2,447.6 228.0,454.4 C228.8,461.2 230.0,469.0 230.4,473.6 C230.8,478.2 230.6,480.6 230.6,482.0 L218.9,482.0 C218.9,479.3 219.1,469.2 218.9,466.0 C218.7,462.8 218.4,463.3 217.8,462.6 C217.2,461.9 216.3,461.6 215.6,461.6 C214.9,461.6 213.9,461.9 213.4,462.6 C212.9,463.3 212.6,462.8 212.4,466.0 C212.2,469.2 212.4,479.3 212.4,482.0 L209.3,482.0 C209.3,478.3 209.3,465.6 209.3,460.0 C209.3,454.4 209.1,451.4 209.5,448.5 C209.9,445.6 212.0,447.4 211.7,442.4 C211.4,437.4 209.1,426.8 207.6,418.4 C206.1,410.0 204.2,400.4 202.8,392.0 C201.5,383.6 200.2,374.8 199.5,368.0 C198.8,361.2 199.3,355.6 198.7,351.2 C198.0,346.8 197.0,346.6 195.6,341.6 C194.2,336.6 191.0,324.6 190.1,321.2 C189.7,323.0 188.3,328.5 187.9,332.0 C187.5,335.5 187.6,336.0 187.7,342.0 C187.8,348.0 187.7,359.7 188.4,368.0 C189.1,376.3 190.4,384.0 192.0,392.0 C193.6,400.0 196.4,408.8 198.0,416.0 C199.6,423.2 200.8,429.2 201.6,435.2 C202.4,441.2 202.6,444.2 202.8,452.0 C203.0,459.8 202.8,477.0 202.8,482.0 L152.6,482.0 C152.6,478.7 152.8,467.8 152.6,462.0 C152.4,456.2 152.3,450.7 151.3,447.0 C150.3,443.3 148.3,440.0 146.8,440.0 C145.3,440.0 143.2,443.3 142.2,447.0 C141.1,450.7 140.8,456.2 140.5,462.0 C140.2,467.8 140.5,478.7 140.5,482.0 L90.7,482.0 C90.7,480.6 90.6,479.4 90.7,473.6 C90.8,467.8 90.5,454.4 91.2,447.2 C91.9,440.0 93.2,438.0 94.8,430.4 C96.4,422.8 99.1,412.0 100.8,401.6 C102.5,391.2 104.3,377.9 105.1,368.0 C105.9,358.1 105.7,348.3 105.6,342.0 C105.5,335.7 105.1,333.5 104.5,330.0 C103.9,326.5 102.4,322.7 102.0,321.2 C101.2,325.4 98.4,339.4 97.2,346.4 C96.0,353.4 96.0,354.8 94.8,363.2 C93.6,371.6 91.8,385.6 90.0,396.8 C88.2,408.0 85.4,422.8 84.0,430.4 C82.6,438.0 81.6,439.2 81.6,442.4 C81.6,445.6 83.4,446.7 83.8,449.6 C84.2,452.5 84.0,454.6 84.0,460.0 C84.0,465.4 84.0,478.3 84.0,482.0 L79.7,482.0 C79.7,479.3 79.9,469.2 79.7,466.0 C79.5,462.8 79.3,463.3 78.8,462.6 C78.3,461.9 77.5,461.6 76.8,461.6 C76.1,461.6 75.3,461.9 74.8,462.6 C74.3,463.3 74.1,462.8 73.9,466.0 C73.8,469.2 73.9,479.3 73.9,482.0 L63.4,482.0 C63.4,480.6 63.3,478.2 63.6,473.6 C63.9,469.0 64.5,460.0 65.3,454.4 C66.1,448.8 68.1,446.4 68.4,440.0 C68.7,433.6 67.7,426.0 67.2,416.0 C66.7,406.0 65.3,392.0 65.3,380.0 C65.3,368.0 66.3,354.0 67.2,344.0 C68.1,334.0 69.9,327.3 70.8,320.0 C71.7,312.7 72.0,305.8 72.6,300.0 C73.2,294.2 73.8,289.7 74.6,285.0 C75.4,280.3 76.3,275.9 77.6,272.0 C78.9,268.1 80.3,264.8 82.5,261.5 C84.7,258.2 88.1,254.7 91.0,252.4 C93.9,250.1 97.0,249.0 100.0,247.5 C103.0,246.0 105.8,244.9 109.0,243.4 C112.2,241.9 116.0,240.2 119.0,238.5 C122.0,236.8 125.2,235.2 127.0,233.5 C128.8,231.8 129.4,230.3 130.0,228.5 C130.6,226.7 130.8,224.6 130.8,222.5 C130.8,220.4 130.4,218.0 130.0,216.0 C129.6,214.0 129.5,213.2 128.5,210.6 C127.5,208.0 125.5,203.8 124.0,200.5 C122.5,197.2 120.8,193.8 119.5,191.0 C118.2,188.2 116.8,186.0 116.0,184.0 C115.2,182.0 115.1,180.8 115.0,179.0 C114.9,177.2 115.1,175.0 115.6,173.0 C116.1,171.0 116.8,169.2 118.0,167.0 C119.2,164.8 121.0,161.6 123.0,159.5 C125.0,157.4 128.8,155.2 130.0,154.3 Z" fill="#feebe3"/>
  <g clip-path="url(#bodyclip)">
    <g filter="url(#bl3)">
      <path d="M142,195 C150,205 156,222 162,236 L172,240 L166,220 L150,198 Z" fill="#fcdccf" opacity="0.8"/>
      <path d="M200,262 C210,275 214,300 214,330 L222,330 L220,280 L208,258 Z" fill="#fcdccf" opacity="0.7"/>
      <path d="M75,290 C78,330 80,380 78,430 L88,430 C90,380 90,330 86,290 Z" fill="#fcdccf" opacity="0.55"/>
      <path d="M205,335 C208,370 212,400 218,440 L224,440 C222,400 222,370 220,335 Z" fill="#fcdccf" opacity="0.6"/>
      <ellipse cx="114" cy="392" rx="6.5" ry="44" fill="#fff6f2" opacity="0.95"/>
      <path d="M128,442 C136,434 156,434 166,446 L166,470 L128,470 Z" fill="#fcdccf" opacity="0.35"/>
      <path d="M110,300 C125,318 140,320 148,306 C156,320 172,318 190,300" fill="none" stroke="#fcdccf" stroke-width="3" opacity="0.7"/>
    </g>
    <g filter="url(#bl1)" fill="none" stroke="#fffcfb" stroke-width="1.5" opacity="0.75">
      <path d="M119.5,248.5 C125,246.5 132,246.5 139,249"/>
      <path d="M154,249 C161,246.5 170,246.5 178,248.5"/>
    </g>
  </g>
  <path d="M130.0,154.3 C131.3,153.8 135.2,151.8 138.0,151.0 C140.8,150.2 142.8,149.5 146.5,149.3 C150.2,149.1 155.8,149.2 160.0,149.8 C164.2,150.4 168.5,151.7 172.0,152.8 C175.5,153.9 179.5,155.9 181.0,156.5 C181.1,157.0 182.0,157.6 181.8,159.5 C181.6,161.4 180.1,166.0 179.6,167.8 C179.1,169.6 178.7,169.1 178.8,170.5 C178.9,171.9 179.4,173.8 180.3,176.0 C181.2,178.2 182.8,181.4 184.0,183.5 C185.2,185.6 187.0,187.4 187.8,188.8 C188.6,190.2 188.8,190.7 188.6,191.8 C188.3,192.9 186.9,194.6 186.3,195.6 C185.7,196.6 185.1,197.4 184.9,197.8 C185.0,198.4 185.9,200.5 185.6,201.6 C185.3,202.7 183.8,203.8 183.3,204.3 C182.8,204.9 182.7,204.8 182.6,204.9 C183.0,205.2 184.4,205.9 184.8,206.8 C185.2,207.8 185.1,209.2 184.8,210.6 C184.6,212.0 184.2,213.6 183.3,215.0 C182.4,216.4 181.5,217.8 179.6,218.8 C177.7,219.8 174.5,220.6 172.0,220.8 C169.5,221.1 165.8,220.4 164.6,220.3 C164.5,221.1 164.1,223.4 164.0,225.0 C163.9,226.6 163.9,228.5 164.3,230.0 C164.7,231.5 165.1,232.7 166.2,234.0 C167.2,235.3 168.1,236.3 170.6,237.6 C173.1,238.9 177.8,240.1 181.0,241.6 C184.2,243.1 187.0,244.7 190.0,246.5 C193.0,248.3 196.4,250.6 199.0,252.4 C201.6,254.2 203.7,255.7 205.5,257.5 C207.3,259.3 208.6,261.1 210.0,263.2 C211.4,265.3 212.9,267.6 214.0,270.0 C215.1,272.4 215.6,273.4 216.3,277.7 C217.0,282.0 217.4,290.3 218.0,295.7 C218.6,301.1 219.2,305.9 219.8,310.0 C220.4,314.1 220.4,314.3 221.3,320.0 C222.2,325.7 224.3,336.0 225.1,344.0 C225.9,352.0 226.0,360.0 226.1,368.0 C226.2,376.0 225.8,385.2 225.6,392.0 C225.4,398.8 225.1,402.0 225.1,408.8 C225.1,415.6 225.1,425.2 225.6,432.8 C226.1,440.4 227.2,447.6 228.0,454.4 C228.8,461.2 230.0,469.0 230.4,473.6 C230.8,478.2 230.6,480.6 230.6,482.0 L218.9,482.0 C218.9,479.3 219.1,469.2 218.9,466.0 C218.7,462.8 218.4,463.3 217.8,462.6 C217.2,461.9 216.3,461.6 215.6,461.6 C214.9,461.6 213.9,461.9 213.4,462.6 C212.9,463.3 212.6,462.8 212.4,466.0 C212.2,469.2 212.4,479.3 212.4,482.0 L209.3,482.0 C209.3,478.3 209.3,465.6 209.3,460.0 C209.3,454.4 209.1,451.4 209.5,448.5 C209.9,445.6 212.0,447.4 211.7,442.4 C211.4,437.4 209.1,426.8 207.6,418.4 C206.1,410.0 204.2,400.4 202.8,392.0 C201.5,383.6 200.2,374.8 199.5,368.0 C198.8,361.2 199.3,355.6 198.7,351.2 C198.0,346.8 197.0,346.6 195.6,341.6 C194.2,336.6 191.0,324.6 190.1,321.2 C189.7,323.0 188.3,328.5 187.9,332.0 C187.5,335.5 187.6,336.0 187.7,342.0 C187.8,348.0 187.7,359.7 188.4,368.0 C189.1,376.3 190.4,384.0 192.0,392.0 C193.6,400.0 196.4,408.8 198.0,416.0 C199.6,423.2 200.8,429.2 201.6,435.2 C202.4,441.2 202.6,444.2 202.8,452.0 C203.0,459.8 202.8,477.0 202.8,482.0 L152.6,482.0 C152.6,478.7 152.8,467.8 152.6,462.0 C152.4,456.2 152.3,450.7 151.3,447.0 C150.3,443.3 148.3,440.0 146.8,440.0 C145.3,440.0 143.2,443.3 142.2,447.0 C141.1,450.7 140.8,456.2 140.5,462.0 C140.2,467.8 140.5,478.7 140.5,482.0 L90.7,482.0 C90.7,480.6 90.6,479.4 90.7,473.6 C90.8,467.8 90.5,454.4 91.2,447.2 C91.9,440.0 93.2,438.0 94.8,430.4 C96.4,422.8 99.1,412.0 100.8,401.6 C102.5,391.2 104.3,377.9 105.1,368.0 C105.9,358.1 105.7,348.3 105.6,342.0 C105.5,335.7 105.1,333.5 104.5,330.0 C103.9,326.5 102.4,322.7 102.0,321.2 C101.2,325.4 98.4,339.4 97.2,346.4 C96.0,353.4 96.0,354.8 94.8,363.2 C93.6,371.6 91.8,385.6 90.0,396.8 C88.2,408.0 85.4,422.8 84.0,430.4 C82.6,438.0 81.6,439.2 81.6,442.4 C81.6,445.6 83.4,446.7 83.8,449.6 C84.2,452.5 84.0,454.6 84.0,460.0 C84.0,465.4 84.0,478.3 84.0,482.0 L79.7,482.0 C79.7,479.3 79.9,469.2 79.7,466.0 C79.5,462.8 79.3,463.3 78.8,462.6 C78.3,461.9 77.5,461.6 76.8,461.6 C76.1,461.6 75.3,461.9 74.8,462.6 C74.3,463.3 74.1,462.8 73.9,466.0 C73.8,469.2 73.9,479.3 73.9,482.0 L63.4,482.0 C63.4,480.6 63.3,478.2 63.6,473.6 C63.9,469.0 64.5,460.0 65.3,454.4 C66.1,448.8 68.1,446.4 68.4,440.0 C68.7,433.6 67.7,426.0 67.2,416.0 C66.7,406.0 65.3,392.0 65.3,380.0 C65.3,368.0 66.3,354.0 67.2,344.0 C68.1,334.0 69.9,327.3 70.8,320.0 C71.7,312.7 72.0,305.8 72.6,300.0 C73.2,294.2 73.8,289.7 74.6,285.0 C75.4,280.3 76.3,275.9 77.6,272.0 C78.9,268.1 80.3,264.8 82.5,261.5 C84.7,258.2 88.1,254.7 91.0,252.4 C93.9,250.1 97.0,249.0 100.0,247.5 C103.0,246.0 105.8,244.9 109.0,243.4 C112.2,241.9 116.0,240.2 119.0,238.5 C122.0,236.8 125.2,235.2 127.0,233.5 C128.8,231.8 129.4,230.3 130.0,228.5 C130.6,226.7 130.8,224.6 130.8,222.5 C130.8,220.4 130.4,218.0 130.0,216.0 C129.6,214.0 129.5,213.2 128.5,210.6 C127.5,208.0 125.5,203.8 124.0,200.5 C122.5,197.2 120.8,193.8 119.5,191.0 C118.2,188.2 116.8,186.0 116.0,184.0 C115.2,182.0 115.1,180.8 115.0,179.0 C114.9,177.2 115.1,175.0 115.6,173.0 C116.1,171.0 116.8,169.2 118.0,167.0 C119.2,164.8 121.0,161.6 123.0,159.5 C125.0,157.4 128.8,155.2 130.0,154.3 Z" fill="none" stroke="#fa9274" stroke-width="1"/>
  <rect x="55" y="456" width="185" height="21" fill="url(#bodyfade)"/>
  <rect x="55" y="476.5" width="185" height="10" fill="#fff"/>
</g>

<!-- Arrows -->
<g fill="none" stroke="#3694b4" stroke-width="3">
  <path d="M147.5,128 L147.5,88.5 L405.5,88.5" marker-end="url(#ah)"/>
  <path d="M572,88.5 L759,88.5" marker-end="url(#ah)"/>
  <path d="M861.6,188 L861.6,291.1" marker-end="url(#ah)"/>
  <path d="M775,544 L587.8,544" marker-end="url(#ah)"/>
  <path d="M421.3,543.4 L147.5,543.4 L147.5,514.7" marker-end="url(#ah)"/>
</g>

<!-- Center box -->
<rect x="323.5" y="215.5" width="354" height="199" fill="none" stroke="#3694b4" stroke-width="7"/>
<text class="ttl" x="377.8" y="303.3" font-size="57" textLength="248" lengthAdjust="spacingAndGlyphs">CAR-T-cell</text>
<text class="ttl" x="404.5" y="369" font-size="56" textLength="190.5" lengthAdjust="spacingAndGlyphs">Therapy</text>

<!-- Numbered circles -->
<g fill="none" stroke="#db7a08" stroke-width="3">
  <circle cx="279.7" cy="58.5" r="18.6"/>
  <circle cx="662" cy="58.4" r="18.6"/>
  <circle cx="787" cy="328.3" r="18.6"/>
  <circle cx="689" cy="512" r="18.6"/>
  <circle cx="282.4" cy="512" r="18.6"/>
</g>
<g fill="none" stroke="#db7a08" stroke-width="3.1" stroke-linejoin="miter">
  <path d="M656.1,52.3 C657.8,51 660,50.6 662.3,50.6 C665,50.6 666.5,52.5 666.5,54.9 C666.5,56.7 665.6,58 664.3,59.5 L658.6,66.2 L668.1,66.2"/>
  <path d="M781.3,320.4 L791.2,320.4 L785.2,327.6 C788.5,327.2 791.6,328.8 791.6,331.9 C791.6,334.8 789.5,336.3 786.9,336.3 C784.8,336.3 783.2,335.6 781.6,334.5"/>
  <path d="M287.8,503.4 L279.3,503.4 L279.3,511.3 C281,510.4 282.5,510.2 283.5,510.2 C286.2,510.2 287.6,512.2 287.6,514.8 C287.6,517.5 285.8,519.2 283,519.2 C281,519.2 279.4,518.6 277.6,517.6"/>
</g>
<g fill="#db7a08">
  <path d="M279.4,49.1 L282.9,49.1 L282.9,67.7 L279.4,67.7 L279.4,52.8 L276.4,54.4 L275.2,51.5 Z"/>
  <path fill-rule="evenodd" d="M689.6,501.9 L692.4,501.9 L692.4,513 L695,513 L695,515.7 L692.4,515.7 L692.4,520.7 L689.2,520.7 L689.2,515.7 L680.9,515.7 L680.9,513.3 Z M689.2,506.8 L689.2,513 L684.8,513 Z"/>
</g>

<!-- Labels -->
<text class="lbl" x="218" y="118.7" font-size="22" textLength="122" lengthAdjust="spacingAndGlyphs">Collect blood</text>
<text class="lbl" x="581" y="118.2" font-size="22" textLength="162" lengthAdjust="spacingAndGlyphs">Reprogram T-cells</text>
<text class="lbl" x="822.5" y="337.4" font-size="22" textLength="75" lengthAdjust="spacingAndGlyphs">Multiply</text>
<text class="lbl" x="652.6" y="575.8" font-size="22" textLength="71" lengthAdjust="spacingAndGlyphs">Infusion</text>
<text class="lbl" x="199.2" y="575.7" font-size="22" textLength="165.5" lengthAdjust="spacingAndGlyphs">CAR-T-cells attack</text>
<text class="lbl" x="230.8" y="602.2" font-size="22" textLength="101.5" lengthAdjust="spacingAndGlyphs">cancer cells</text>
<text class="gry" x="475" y="174.8" font-size="19" textLength="47" lengthAdjust="spacingAndGlyphs">T-cells</text>
<text class="gry" x="719" y="174.8" font-size="19" textLength="86.5" lengthAdjust="spacingAndGlyphs">CAR-T-cells</text>

<!-- T-cell -->
<g transform="translate(500,94.7)">
  <circle r="49.5" fill="url(#sph)"/>
  <use href="#hairs" transform="translate(-1,-0.2)"/>
</g>

<!-- big CAR-T cell -->
<use href="#cart" transform="translate(861.5,98)"/>

<!-- multiply cluster -->
<g>
  <use href="#cartS" transform="translate(861.4,384)"/>
  <use href="#cartS" transform="translate(831,437.2)"/>
  <use href="#cartS" transform="translate(890.6,437.2)"/>
  <use href="#cartS" transform="translate(802.6,490)"/>
  <use href="#cartS" transform="translate(861.4,490)"/>
  <use href="#cartS" transform="translate(919.4,490)"/>
  <use href="#cartS" transform="translate(831,542.7)"/>
  <use href="#cartS" transform="translate(890.6,542.7)"/>
  <use href="#cartS" transform="translate(861.4,595.4)"/>
</g>

<!-- Blood bag -->
<g id="bag">
  <path d="M487.2,471 L487.2,468.8 A15.8,15.8 0 0 1 518.8,468.8 L518.8,471" fill="none" stroke="#333" stroke-width="4.6"/>
  <path d="M487.2,471 L487.2,468.8 A15.8,15.8 0 0 1 518.8,468.8 L518.8,471" fill="none" stroke="#fbc6c6" stroke-width="2.8"/>
  <path d="M469,476 Q469,470.5 474.5,470.5 L532.5,470.5 Q538,470.5 538,476 L538,555 Q538,557.4 535.6,557.4 L471.4,557.4 Q469,557.4 469,555 Z" fill="#ffcaca"/>
  <path d="M469,476 Q469,470.5 474.5,470.5 L500.6,470.5 L500.6,500 L469,500 Z" fill="#ffdcdc"/>
  <rect x="469" y="500" width="31.6" height="57.4" fill="#ff6a6a"/>
  <path d="M500.6,500 L538,500 L538,555 Q538,557.4 535.6,557.4 L500.6,557.4 Z" fill="#c40000"/>
  <linearGradient id="bagR" x1="0" y1="0" x2="1" y2="0"><stop offset="0" stop-color="#f00" stop-opacity="0"/><stop offset="1" stop-color="#f00" stop-opacity="0.9"/></linearGradient>
  <rect x="530" y="505" width="8" height="52.4" fill="url(#bagR)"/>
  <ellipse cx="496" cy="546" rx="5" ry="11" fill="#fff" opacity="0.12"/>
  <rect x="486.8" y="504" width="32.5" height="34" fill="#fefec4"/>
  <rect x="486.8" y="504" width="13.8" height="34" fill="#ffffda"/>
  <path d="M469,476 Q469,470.5 474.5,470.5 L532.5,470.5 Q538,470.5 538,476 L538,555 Q538,557.4 535.6,557.4 L471.4,557.4 Q469,557.4 469,555 Z" fill="none" stroke="#2a2a2a" stroke-width="1"/>
  <path d="M494.2,557.4 L512.6,557.4 A9.2,9 0 0 1 494.2,557.4 Z" fill="#f26060" stroke="#333" stroke-width="0.8"/>
  <path d="M503.4,566 L503.4,619 A15.5,15.5 0 0 1 472,619 L472,579 A16,16 0 0 0 440,581" fill="none" stroke="#5a2020" stroke-width="4.4" stroke-linecap="round"/>
  <path d="M503.4,566 L503.4,619 A15.5,15.5 0 0 1 472,619 L472,579 A16,16 0 0 0 440,581" fill="none" stroke="#f77" stroke-width="3" stroke-linecap="round"/>
  <path d="M503.4,568 L503.4,619 A15.5,15.5 0 0 1 472,619 L472,579" fill="none" stroke="#ffd4d4" stroke-width="1.2"/>
  <rect x="497.8" y="569.6" width="12" height="2.6" rx="1.2" fill="#c8c8b8" stroke="#777" stroke-width="0.5"/>
</g>
</svg>
</body></html>
